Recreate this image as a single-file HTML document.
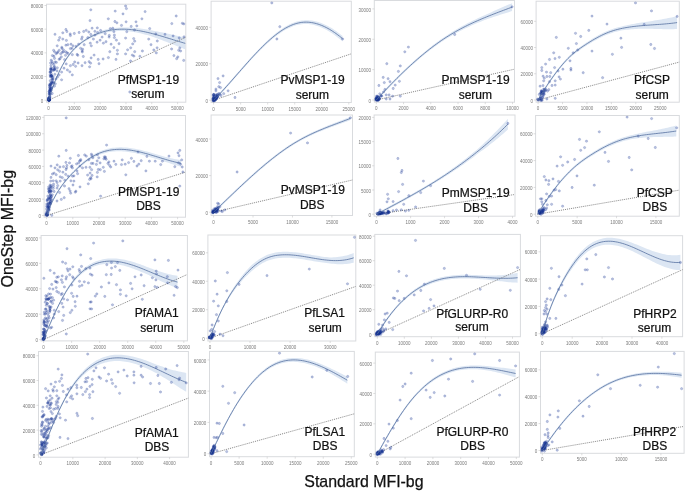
<!DOCTYPE html>
<html><head><meta charset="utf-8"><style>
html,body{margin:0;padding:0;background:#fff;}
svg{display:block;font-family:"Liberation Sans", sans-serif;will-change:transform;}
</style></head><body>
<svg width="685" height="491" viewBox="0 0 685 491">
<rect width="685" height="491" fill="#fff"/>
<clipPath id="c0"><rect x="46.5" y="4.2" width="139.3" height="98"/></clipPath>
<rect x="46.5" y="4.2" width="139.3" height="98" fill="#fff" stroke="#d9dbde" stroke-width="1"/>
<path d="M44.5 100.2h2M44.5 76.53h2M44.5 52.85h2M44.5 29.17h2M44.5 5.5h2M48.5 102.2v2M74.32 102.2v2M100.14 102.2v2M125.96 102.2v2M151.78 102.2v2M177.6 102.2v2" stroke="#c8c8c8" stroke-width="0.6" fill="none"/>
<g font-size="4.5" fill="#7a7a7a"><text x="43.3" y="102.8" text-anchor="end">0</text><text x="43.3" y="79.12" text-anchor="end">20000</text><text x="43.3" y="55.45" text-anchor="end">40000</text><text x="43.3" y="31.77" text-anchor="end">60000</text><text x="43.3" y="8.1" text-anchor="end">80000</text><text x="48.5" y="110.3" text-anchor="middle">0</text><text x="74.32" y="110.3" text-anchor="middle">10000</text><text x="100.14" y="110.3" text-anchor="middle">20000</text><text x="125.96" y="110.3" text-anchor="middle">30000</text><text x="151.78" y="110.3" text-anchor="middle">40000</text><text x="177.6" y="110.3" text-anchor="middle">50000</text></g>
<g clip-path="url(#c0)">
<path d="M48.5 98.88L50.23 93.42L51.96 88.31L53.7 83.55L55.43 79.1L57.16 74.96L58.89 71.12L60.63 67.55L62.36 64.25L64.09 61.2L65.82 58.39L67.55 55.8L69.29 53.42L71.02 51.23L72.75 49.22L74.48 47.38L76.22 45.68L77.95 44.13L79.68 42.69L81.41 41.36L83.14 40.11L84.88 38.93L86.61 37.83L88.34 36.78L90.07 35.8L91.81 34.88L93.54 34.03L95.27 33.23L97 32.49L98.73 31.8L100.47 31.17L102.2 30.6L103.93 30.08L105.66 29.61L107.4 29.18L109.13 28.81L110.86 28.49L112.59 28.21L114.32 27.98L116.06 27.79L117.79 27.64L119.52 27.53L121.25 27.47L122.99 27.44L124.72 27.45L126.45 27.47L128.18 27.49L129.91 27.54L131.65 27.63L133.38 27.74L135.11 27.88L136.84 28.05L138.58 28.25L140.31 28.48L142.04 28.72L143.77 28.99L145.5 29.28L147.24 29.59L148.97 29.92L150.7 30.27L152.43 30.61L154.17 30.91L155.9 31.23L157.63 31.57L159.36 31.91L161.09 32.26L162.83 32.62L164.56 32.99L166.29 33.36L168.02 33.74L169.76 34.12L171.49 34.5L173.22 34.89L174.95 35.27L176.68 35.65L178.42 36.03L180.15 36.4L181.88 36.77L183.61 37.13L185.35 37.48L185.35 49.32L183.61 48.66L181.88 48L180.15 47.32L178.42 46.65L176.68 45.96L174.95 45.28L173.22 44.59L171.49 43.9L169.76 43.21L168.02 42.52L166.29 41.84L164.56 41.16L162.83 40.49L161.09 39.82L159.36 39.16L157.63 38.52L155.9 37.88L154.17 37.25L152.43 36.64L150.7 36.09L148.97 35.59L147.24 35.1L145.5 34.63L143.77 34.18L142.04 33.75L140.31 33.34L138.58 32.96L136.84 32.6L135.11 32.27L133.38 31.97L131.65 31.7L129.91 31.46L128.18 31.25L126.45 31.07L124.72 30.97L122.99 30.93L121.25 30.92L119.52 30.95L117.79 31.02L116.06 31.13L114.32 31.28L112.59 31.48L110.86 31.72L109.13 32L107.4 32.34L105.66 32.72L103.93 33.16L102.2 33.64L100.47 34.18L98.73 34.77L97 35.42L95.27 36.12L93.54 36.88L91.81 37.7L90.07 38.59L88.34 39.53L86.61 40.54L84.88 41.61L83.14 42.74L81.41 43.96L79.68 45.29L77.95 46.73L76.22 48.28L74.48 49.98L72.75 51.82L71.02 53.83L69.29 56.02L67.55 58.4L65.82 60.99L64.09 63.8L62.36 66.85L60.63 70.15L58.89 73.72L57.16 77.56L55.43 81.7L53.7 86.15L51.96 90.91L50.23 96.02L48.5 101.48Z" fill="#dce6f3" stroke="none"/>
<line x1="48.5" y1="100.2" x2="185.8" y2="37.25" stroke="#747474" stroke-width="0.85" stroke-linecap="round" stroke-dasharray="0.25 1.75"/>
<g fill="rgba(25,55,150,0.3)" stroke="rgba(25,55,150,0.36)" stroke-width="0.5"><circle cx="90.8" cy="9.8" r="1.15"/><circle cx="90" cy="20.6" r="1.15"/><circle cx="92.1" cy="28.2" r="1.15"/><circle cx="94.9" cy="31.3" r="1.15"/><circle cx="55" cy="34.3" r="1.15"/><circle cx="62.8" cy="32.8" r="1.15"/><circle cx="65.9" cy="29.5" r="1.15"/><circle cx="66.9" cy="31.5" r="1.15"/><circle cx="70.2" cy="34" r="1.15"/><circle cx="70.4" cy="35.6" r="1.15"/><circle cx="74.3" cy="33.5" r="1.15"/><circle cx="79.1" cy="32.5" r="1.15"/><circle cx="83.7" cy="31.5" r="1.15"/><circle cx="86.2" cy="30.3" r="1.15"/><circle cx="88.8" cy="32" r="1.15"/><circle cx="90.8" cy="34.5" r="1.15"/><circle cx="59.7" cy="37.6" r="1.15"/><circle cx="58.7" cy="40.2" r="1.15"/><circle cx="62.8" cy="39.1" r="1.15"/><circle cx="66.4" cy="40.4" r="1.15"/><circle cx="82.2" cy="37.1" r="1.15"/><circle cx="81.6" cy="39.1" r="1.15"/><circle cx="87.8" cy="37.6" r="1.15"/><circle cx="93.4" cy="39.1" r="1.15"/><circle cx="90.3" cy="43.2" r="1.15"/><circle cx="91.3" cy="45.8" r="1.15"/><circle cx="84.2" cy="44.7" r="1.15"/><circle cx="57.2" cy="45.8" r="1.15"/><circle cx="61.8" cy="47.3" r="1.15"/><circle cx="65.9" cy="45.2" r="1.15"/><circle cx="67.9" cy="44.7" r="1.15"/><circle cx="71" cy="44.2" r="1.15"/><circle cx="73" cy="45.8" r="1.15"/><circle cx="72" cy="48.3" r="1.15"/><circle cx="76" cy="46.3" r="1.15"/><circle cx="78.6" cy="44.2" r="1.15"/><circle cx="80.6" cy="48.3" r="1.15"/><circle cx="82.2" cy="50.8" r="1.15"/><circle cx="53.6" cy="50.3" r="1.15"/><circle cx="54.7" cy="51.9" r="1.15"/><circle cx="59.2" cy="50.3" r="1.15"/><circle cx="63.3" cy="51.9" r="1.15"/><circle cx="66.9" cy="52.7" r="1.15"/><circle cx="57.2" cy="52.9" r="1.15"/><circle cx="125.6" cy="6" r="1.15"/><circle cx="126.4" cy="8.6" r="1.15"/><circle cx="115.2" cy="11.1" r="1.15"/><circle cx="123" cy="13.9" r="1.15"/><circle cx="108.3" cy="18.8" r="1.15"/><circle cx="141.9" cy="18.8" r="1.15"/><circle cx="114.9" cy="21.5" r="1.15"/><circle cx="116.9" cy="22.8" r="1.15"/><circle cx="126.1" cy="21.8" r="1.15"/><circle cx="136" cy="21.8" r="1.15"/><circle cx="121.5" cy="25.4" r="1.15"/><circle cx="131.2" cy="26.4" r="1.15"/><circle cx="136.8" cy="25.9" r="1.15"/><circle cx="97.3" cy="27.9" r="1.15"/><circle cx="110.3" cy="28.6" r="1.15"/><circle cx="112.8" cy="28.2" r="1.15"/><circle cx="100.6" cy="30.5" r="1.15"/><circle cx="97.6" cy="32.5" r="1.15"/><circle cx="95" cy="35.1" r="1.15"/><circle cx="113.9" cy="31.7" r="1.15"/><circle cx="126.8" cy="31.7" r="1.15"/><circle cx="134.5" cy="30" r="1.15"/><circle cx="105.2" cy="33.7" r="1.15"/><circle cx="109.3" cy="35.4" r="1.15"/><circle cx="114.4" cy="35.1" r="1.15"/><circle cx="102.1" cy="37.1" r="1.15"/><circle cx="109.1" cy="37.1" r="1.15"/><circle cx="114.4" cy="37.6" r="1.15"/><circle cx="116.4" cy="40.2" r="1.15"/><circle cx="125.6" cy="38.1" r="1.15"/><circle cx="133.7" cy="38.6" r="1.15"/><circle cx="134.7" cy="41.2" r="1.15"/><circle cx="100.1" cy="40.2" r="1.15"/><circle cx="97.1" cy="42.2" r="1.15"/><circle cx="103.4" cy="43.2" r="1.15"/><circle cx="106" cy="41.7" r="1.15"/><circle cx="111.1" cy="44.2" r="1.15"/><circle cx="119" cy="43.7" r="1.15"/><circle cx="132.7" cy="43.9" r="1.15"/><circle cx="113.9" cy="47.6" r="1.15"/><circle cx="130.7" cy="47.8" r="1.15"/><circle cx="117.4" cy="50.3" r="1.15"/><circle cx="127.6" cy="49.8" r="1.15"/><circle cx="109.8" cy="51.7" r="1.15"/><circle cx="134.7" cy="51.7" r="1.15"/><circle cx="142.4" cy="51" r="1.15"/><circle cx="125.6" cy="53.9" r="1.15"/><circle cx="117.4" cy="53.9" r="1.15"/><circle cx="145.1" cy="11.6" r="1.15"/><circle cx="176.2" cy="16" r="1.15"/><circle cx="171.8" cy="23.6" r="1.15"/><circle cx="182.3" cy="23.3" r="1.15"/><circle cx="183.8" cy="23.9" r="1.15"/><circle cx="149.7" cy="28.6" r="1.15"/><circle cx="155.8" cy="34" r="1.15"/><circle cx="165" cy="34.3" r="1.15"/><circle cx="173.1" cy="35.9" r="1.15"/><circle cx="179.2" cy="37.9" r="1.15"/><circle cx="184" cy="36.8" r="1.15"/><circle cx="148.7" cy="39.1" r="1.15"/><circle cx="157.3" cy="41" r="1.15"/><circle cx="151" cy="44.7" r="1.15"/><circle cx="157.1" cy="47.8" r="1.15"/><circle cx="153.8" cy="50" r="1.15"/><circle cx="156.3" cy="52.9" r="1.15"/><circle cx="171.6" cy="49" r="1.15"/><circle cx="179.8" cy="48" r="1.15"/><circle cx="178.7" cy="50.3" r="1.15"/><circle cx="180.6" cy="51" r="1.15"/><circle cx="94.1" cy="55.1" r="1.15"/><circle cx="91.1" cy="57.9" r="1.15"/><circle cx="98.2" cy="59.4" r="1.15"/><circle cx="103.1" cy="59" r="1.15"/><circle cx="108.4" cy="57.6" r="1.15"/><circle cx="132.3" cy="55.1" r="1.15"/><circle cx="133.9" cy="56.1" r="1.15"/><circle cx="116" cy="59.4" r="1.15"/><circle cx="130.6" cy="61" r="1.15"/><circle cx="89.1" cy="61.7" r="1.15"/><circle cx="90.6" cy="63.2" r="1.15"/><circle cx="99" cy="63.7" r="1.15"/><circle cx="89.6" cy="66.8" r="1.15"/><circle cx="129.8" cy="92" r="1.15"/><circle cx="139.9" cy="56.3" r="1.15"/><circle cx="173.9" cy="55.6" r="1.15"/><circle cx="177.8" cy="56.9" r="1.15"/><circle cx="176.7" cy="58.7" r="1.15"/><circle cx="183.7" cy="60.4" r="1.15"/><circle cx="63.4" cy="49.8" r="1.15"/><circle cx="61.9" cy="48.3" r="1.15"/><circle cx="57.9" cy="52" r="1.15"/><circle cx="62.2" cy="52.3" r="1.15"/><circle cx="65.5" cy="51.7" r="1.15"/><circle cx="68" cy="53.5" r="1.15"/><circle cx="56.1" cy="53.8" r="1.15"/><circle cx="60.7" cy="53.8" r="1.15"/><circle cx="65.5" cy="55.3" r="1.15"/><circle cx="52.4" cy="55.6" r="1.15"/><circle cx="53.9" cy="56.2" r="1.15"/><circle cx="61.3" cy="56.9" r="1.15"/><circle cx="54.5" cy="58.4" r="1.15"/><circle cx="60" cy="58.7" r="1.15"/><circle cx="59.1" cy="59.3" r="1.15"/><circle cx="64.6" cy="59.6" r="1.15"/><circle cx="51.2" cy="60.2" r="1.15"/><circle cx="52.1" cy="61.7" r="1.15"/><circle cx="50.6" cy="63" r="1.15"/><circle cx="52.7" cy="63.3" r="1.15"/><circle cx="55.2" cy="62" r="1.15"/><circle cx="53.9" cy="64.5" r="1.15"/><circle cx="56.4" cy="62.4" r="1.15"/><circle cx="66.2" cy="63.9" r="1.15"/><circle cx="57.3" cy="67.8" r="1.15"/><circle cx="64" cy="68.2" r="1.15"/><circle cx="53.9" cy="70" r="1.15"/><circle cx="57" cy="70.9" r="1.15"/><circle cx="50.6" cy="69.7" r="1.15"/><circle cx="50.9" cy="71.8" r="1.15"/><circle cx="51.2" cy="73.6" r="1.15"/><circle cx="54.9" cy="74.3" r="1.15"/><circle cx="51.5" cy="75.8" r="1.15"/><circle cx="50.6" cy="76.7" r="1.15"/><circle cx="61.6" cy="72.1" r="1.15"/><circle cx="59.1" cy="74.9" r="1.15"/><circle cx="67.4" cy="70" r="1.15"/><circle cx="69.8" cy="71.8" r="1.15"/><circle cx="72.3" cy="74.9" r="1.15"/><circle cx="70.4" cy="65.7" r="1.15"/><circle cx="73.2" cy="64.5" r="1.15"/><circle cx="75.6" cy="66.3" r="1.15"/><circle cx="74.7" cy="62" r="1.15"/><circle cx="78.1" cy="63" r="1.15"/><circle cx="82" cy="65.7" r="1.15"/><circle cx="85.1" cy="62.7" r="1.15"/><circle cx="77.8" cy="55.3" r="1.15"/><circle cx="77.1" cy="54.4" r="1.15"/><circle cx="83.3" cy="56.5" r="1.15"/><circle cx="82.3" cy="52" r="1.15"/><circle cx="82.6" cy="49.2" r="1.15"/><circle cx="72.3" cy="54.7" r="1.15"/><circle cx="70.4" cy="48.6" r="1.15"/><circle cx="61.6" cy="79.8" r="1.15"/><circle cx="53.8" cy="82.9" r="1.15"/><circle cx="55.3" cy="83.8" r="1.15"/><circle cx="54.4" cy="86.2" r="1.15"/><circle cx="52.2" cy="93.5" r="1.15"/><circle cx="53.2" cy="81.9" r="1.15"/><circle cx="57.5" cy="77" r="1.15"/><circle cx="56" cy="79" r="1.15"/><circle cx="50.08" cy="74.9" r="1.15"/><circle cx="53.17" cy="76.96" r="1.15"/><circle cx="49.47" cy="99.88" r="1.15"/><circle cx="51.5" cy="75.51" r="1.15"/><circle cx="49.98" cy="93.85" r="1.15"/><circle cx="49.94" cy="92.99" r="1.15"/><circle cx="49.4" cy="84.73" r="1.15"/><circle cx="52.37" cy="78.22" r="1.15"/><circle cx="54" cy="67.21" r="1.15"/><circle cx="51.85" cy="82.43" r="1.15"/><circle cx="49.13" cy="98.51" r="1.15"/><circle cx="54.79" cy="68.95" r="1.15"/><circle cx="49.36" cy="100.37" r="1.15"/><circle cx="50.64" cy="83.38" r="1.15"/><circle cx="49.49" cy="99.43" r="1.15"/><circle cx="49.44" cy="97.15" r="1.15"/><circle cx="49.01" cy="100.03" r="1.15"/><circle cx="49.36" cy="93.28" r="1.15"/><circle cx="48.44" cy="98.88" r="1.15"/><circle cx="53.03" cy="70.3" r="1.15"/><circle cx="49" cy="100.4" r="1.15"/><circle cx="50.54" cy="76.61" r="1.15"/><circle cx="54.73" cy="66.75" r="1.15"/><circle cx="51.74" cy="87.79" r="1.15"/><circle cx="48.51" cy="97.92" r="1.15"/><circle cx="49.04" cy="93.98" r="1.15"/><circle cx="51" cy="65.64" r="1.15"/><circle cx="50.3" cy="94.51" r="1.15"/><circle cx="48.42" cy="100.28" r="1.15"/><circle cx="49.95" cy="88.61" r="1.15"/><circle cx="49.11" cy="100.36" r="1.15"/><circle cx="50.24" cy="72.25" r="1.15"/><circle cx="48.52" cy="99.44" r="1.15"/><circle cx="50.47" cy="90.35" r="1.15"/><circle cx="49.85" cy="96.89" r="1.15"/><circle cx="49.48" cy="99.83" r="1.15"/><circle cx="48.63" cy="97.8" r="1.15"/><circle cx="49.24" cy="98.25" r="1.15"/><circle cx="50.73" cy="68.92" r="1.15"/><circle cx="50.89" cy="84.58" r="1.15"/><circle cx="50.79" cy="90.34" r="1.15"/><circle cx="49.92" cy="97.19" r="1.15"/><circle cx="49.33" cy="95.18" r="1.15"/><circle cx="50.34" cy="89.28" r="1.15"/><circle cx="52.52" cy="79.87" r="1.15"/><circle cx="50.88" cy="68.08" r="1.15"/><circle cx="49.5" cy="98.58" r="1.15"/><circle cx="50.85" cy="75.62" r="1.15"/><circle cx="54.38" cy="69.71" r="1.15"/><circle cx="48.46" cy="100.14" r="1.15"/><circle cx="49.43" cy="99.84" r="1.15"/><circle cx="51.28" cy="70.56" r="1.15"/><circle cx="51.16" cy="69.25" r="1.15"/><circle cx="50.14" cy="90.65" r="1.15"/><circle cx="49.51" cy="86.18" r="1.15"/><circle cx="49.41" cy="100.16" r="1.15"/><circle cx="51.86" cy="75.74" r="1.15"/><circle cx="52.1" cy="82.15" r="1.15"/><circle cx="48.61" cy="100.13" r="1.15"/><circle cx="51.99" cy="79.28" r="1.15"/><circle cx="49.15" cy="91.53" r="1.15"/><circle cx="48.66" cy="100.14" r="1.15"/><circle cx="50.67" cy="84.31" r="1.15"/><circle cx="52.3" cy="83.53" r="1.15"/><circle cx="49.55" cy="90" r="1.15"/><circle cx="54.96" cy="69.07" r="1.15"/><circle cx="51.03" cy="90.67" r="1.15"/><circle cx="49.1" cy="91.77" r="1.15"/><circle cx="51.46" cy="88.39" r="1.15"/><circle cx="50.24" cy="80.75" r="1.15"/><circle cx="49.56" cy="99.82" r="1.15"/><circle cx="51.32" cy="82.96" r="1.15"/><circle cx="52.95" cy="79.06" r="1.15"/><circle cx="51.72" cy="76.32" r="1.15"/><circle cx="48.61" cy="98.87" r="1.15"/><circle cx="49.83" cy="87.63" r="1.15"/><circle cx="52.17" cy="68.59" r="1.15"/><circle cx="50.01" cy="72.03" r="1.15"/><circle cx="49.48" cy="99.57" r="1.15"/><circle cx="49.9" cy="87.55" r="1.15"/><circle cx="50.36" cy="84.99" r="1.15"/><circle cx="51.63" cy="86.82" r="1.15"/><circle cx="50.78" cy="89.2" r="1.15"/><circle cx="49.75" cy="91.39" r="1.15"/><circle cx="49.86" cy="85.35" r="1.15"/></g>
<path d="M48.5 100.18L50.23 94.72L51.96 89.61L53.7 84.85L55.43 80.4L57.16 76.26L58.89 72.42L60.63 68.85L62.36 65.55L64.09 62.5L65.82 59.69L67.55 57.1L69.29 54.72L71.02 52.53L72.75 50.52L74.48 48.68L76.22 46.98L77.95 45.43L79.68 43.99L81.41 42.66L83.14 41.43L84.88 40.27L86.61 39.18L88.34 38.16L90.07 37.19L91.81 36.29L93.54 35.45L95.27 34.67L97 33.95L98.73 33.29L100.47 32.68L102.2 32.12L103.93 31.62L105.66 31.16L107.4 30.76L109.13 30.41L110.86 30.1L112.59 29.84L114.32 29.63L116.06 29.46L117.79 29.33L119.52 29.24L121.25 29.19L122.99 29.18L124.72 29.21L126.45 29.27L128.18 29.37L129.91 29.5L131.65 29.66L133.38 29.86L135.11 30.08L136.84 30.33L138.58 30.61L140.31 30.91L142.04 31.24L143.77 31.58L145.5 31.96L147.24 32.35L148.97 32.76L150.7 33.18L152.43 33.63L154.17 34.08L155.9 34.56L157.63 35.04L159.36 35.54L161.09 36.04L162.83 36.55L164.56 37.07L166.29 37.6L168.02 38.13L169.76 38.67L171.49 39.2L173.22 39.74L174.95 40.27L176.68 40.81L178.42 41.34L180.15 41.86L181.88 42.38L183.61 42.9L185.35 43.4" fill="none" stroke="#56709f" stroke-width="0.8"/>
</g>
<g font-size="12" fill="#111" stroke="#111" stroke-width="0.22" text-anchor="middle"><text x="148.4" y="84.4">PfMSP1-19</text><text x="147.8" y="98">serum</text></g>
<clipPath id="c1"><rect x="211.1" y="1.2" width="140.2" height="101.3"/></clipPath>
<rect x="211.1" y="1.2" width="140.2" height="101.3" fill="#fff" stroke="#d9dbde" stroke-width="1"/>
<path d="M209.1 100.2h2M209.1 63.75h2M209.1 27.3h2M213.6 102.5v2M240.64 102.5v2M267.68 102.5v2M294.72 102.5v2M321.76 102.5v2M348.8 102.5v2" stroke="#c8c8c8" stroke-width="0.6" fill="none"/>
<g font-size="4.5" fill="#7a7a7a"><text x="207.9" y="102.8" text-anchor="end">0</text><text x="207.9" y="66.35" text-anchor="end">20000</text><text x="207.9" y="29.9" text-anchor="end">40000</text><text x="213.6" y="110.6" text-anchor="middle">0</text><text x="240.64" y="110.6" text-anchor="middle">5000</text><text x="267.68" y="110.6" text-anchor="middle">10000</text><text x="294.72" y="110.6" text-anchor="middle">15000</text><text x="321.76" y="110.6" text-anchor="middle">20000</text><text x="348.8" y="110.6" text-anchor="middle">25000</text></g>
<g clip-path="url(#c1)">
<path d="M213.6 98.91L215.23 97.25L216.87 95.57L218.5 93.86L220.13 92.13L221.76 90.37L223.4 88.59L225.03 86.79L226.66 84.98L228.29 83.15L229.93 81.31L231.56 79.46L233.19 77.6L234.82 75.74L236.46 73.87L238.09 72L239.72 70.13L241.36 68.27L242.99 66.41L244.62 64.56L246.25 62.71L247.89 60.88L249.52 59.06L251.15 57.26L252.78 55.47L254.42 53.69L256.05 51.93L257.68 50.2L259.31 48.49L260.95 46.82L262.58 45.17L264.21 43.56L265.85 41.98L267.48 40.44L269.11 38.94L270.74 37.48L272.38 36.07L274.01 34.7L275.64 33.38L277.27 32.11L278.91 30.9L280.54 29.73L282.17 28.63L283.8 27.59L285.44 26.6L287.07 25.68L288.7 24.83L290.34 24.04L291.97 23.32L293.6 22.68L295.23 22.11L296.87 21.61L298.5 21.2L300.13 20.86L301.76 20.61L303.4 20.43L305.03 20.33L306.66 20.29L308.29 20.32L309.93 20.42L311.56 20.6L313.19 20.84L314.83 21.16L316.46 21.54L318.09 22L319.72 22.51L321.36 23.1L322.99 23.74L324.62 24.45L326.25 25.22L327.89 26.05L329.52 26.93L331.15 27.87L332.78 28.87L334.42 29.93L336.05 31.03L337.68 32.19L339.32 33.4L340.95 34.66L342.58 35.96L342.58 41.39L340.95 40.01L339.32 38.67L337.68 37.38L336.05 36.15L334.42 34.96L332.78 33.83L331.15 32.75L329.52 31.73L327.89 30.77L326.25 29.86L324.62 29.01L322.99 28.23L321.36 27.5L319.72 26.84L318.09 26.25L316.46 25.72L314.83 25.25L313.19 24.86L311.56 24.53L309.93 24.28L308.29 24.1L306.66 23.99L305.03 23.97L303.4 24.03L301.76 24.18L300.13 24.4L298.5 24.71L296.87 25.09L295.23 25.55L293.6 26.09L291.97 26.71L290.34 27.39L288.7 28.15L287.07 28.97L285.44 29.86L283.8 30.81L282.17 31.83L280.54 32.9L278.91 34.03L277.27 35.21L275.64 36.45L274.01 37.74L272.38 39.07L270.74 40.46L269.11 41.88L267.48 43.35L265.85 44.86L264.21 46.4L262.58 47.98L260.95 49.6L259.31 51.24L257.68 52.91L256.05 54.61L254.42 56.34L252.78 58.09L251.15 59.86L249.52 61.66L247.89 63.48L246.25 65.31L244.62 67.16L242.99 69.01L241.36 70.87L239.72 72.73L238.09 74.6L236.46 76.47L234.82 78.34L233.19 80.2L231.56 82.06L229.93 83.91L228.29 85.75L226.66 87.58L225.03 89.39L223.4 91.19L221.76 92.97L220.13 94.73L218.5 96.46L216.87 98.17L215.23 99.85L213.6 101.51Z" fill="#dce6f3" stroke="none"/>
<line x1="213.6" y1="100.2" x2="351.3" y2="53.79" stroke="#747474" stroke-width="0.85" stroke-linecap="round" stroke-dasharray="0.25 1.75"/>
<g fill="rgba(25,55,150,0.3)" stroke="rgba(25,55,150,0.36)" stroke-width="0.5"><circle cx="271.8" cy="2.9" r="1.15"/><circle cx="279.8" cy="26.7" r="1.15"/><circle cx="276.9" cy="39" r="1.15"/><circle cx="342.6" cy="39" r="1.15"/><circle cx="223.1" cy="75.9" r="1.15"/><circle cx="218" cy="78.6" r="1.15"/><circle cx="219.6" cy="82.6" r="1.15"/><circle cx="218.8" cy="86.7" r="1.15"/><circle cx="220.5" cy="87.6" r="1.15"/><circle cx="215.9" cy="89.1" r="1.15"/><circle cx="215.9" cy="90.8" r="1.15"/><circle cx="228.1" cy="90.8" r="1.15"/><circle cx="223.7" cy="93.7" r="1.15"/><circle cx="235" cy="97.5" r="1.15"/><circle cx="217.5" cy="94.3" r="1.15"/><circle cx="219" cy="93.5" r="1.15"/><circle cx="221" cy="95.5" r="1.15"/><circle cx="214.66" cy="98.12" r="1.15"/><circle cx="213.05" cy="100.19" r="1.15"/><circle cx="215.36" cy="98.4" r="1.15"/><circle cx="216.32" cy="97.32" r="1.15"/><circle cx="213.02" cy="98.76" r="1.15"/><circle cx="214.85" cy="100.16" r="1.15"/><circle cx="214.89" cy="98.86" r="1.15"/><circle cx="216.84" cy="96.87" r="1.15"/><circle cx="213.82" cy="100.52" r="1.15"/><circle cx="217.59" cy="97.07" r="1.15"/><circle cx="215.41" cy="99.82" r="1.15"/><circle cx="216.37" cy="95.38" r="1.15"/><circle cx="217.14" cy="97.66" r="1.15"/><circle cx="213.93" cy="98.72" r="1.15"/><circle cx="213.72" cy="95.84" r="1.15"/><circle cx="216.47" cy="96.51" r="1.15"/><circle cx="216.09" cy="99.07" r="1.15"/><circle cx="213.7" cy="97.42" r="1.15"/><circle cx="216.28" cy="98.89" r="1.15"/><circle cx="214.42" cy="100.91" r="1.15"/><circle cx="216.37" cy="97.9" r="1.15"/><circle cx="213.8" cy="94.73" r="1.15"/><circle cx="214.61" cy="98.82" r="1.15"/><circle cx="216.25" cy="98.33" r="1.15"/><circle cx="213" cy="101.01" r="1.15"/><circle cx="217.59" cy="96.24" r="1.15"/><circle cx="213.89" cy="94.48" r="1.15"/><circle cx="213.22" cy="95.57" r="1.15"/><circle cx="214.45" cy="95.89" r="1.15"/><circle cx="217.37" cy="94.76" r="1.15"/><circle cx="213.48" cy="98.49" r="1.15"/><circle cx="215.71" cy="95.01" r="1.15"/><circle cx="213.45" cy="94.52" r="1.15"/><circle cx="212.99" cy="98.79" r="1.15"/><circle cx="215.55" cy="99.86" r="1.15"/><circle cx="212.92" cy="99.46" r="1.15"/><circle cx="215.22" cy="99.18" r="1.15"/><circle cx="217.4" cy="96.51" r="1.15"/><circle cx="213.83" cy="100.76" r="1.15"/><circle cx="214.38" cy="98.85" r="1.15"/><circle cx="213.43" cy="97.51" r="1.15"/><circle cx="218.3" cy="95.23" r="1.15"/><circle cx="214.33" cy="97.59" r="1.15"/><circle cx="213.79" cy="101.12" r="1.15"/><circle cx="219.79" cy="94.42" r="1.15"/></g>
<path d="M213.6 100.21L215.23 98.55L216.87 96.87L218.5 95.16L220.13 93.43L221.76 91.67L223.4 89.89L225.03 88.09L226.66 86.28L228.29 84.45L229.93 82.61L231.56 80.76L233.19 78.9L234.82 77.04L236.46 75.17L238.09 73.3L239.72 71.43L241.36 69.57L242.99 67.71L244.62 65.86L246.25 64.01L247.89 62.18L249.52 60.36L251.15 58.56L252.78 56.78L254.42 55.02L256.05 53.27L257.68 51.56L259.31 49.87L260.95 48.21L262.58 46.58L264.21 44.98L265.85 43.42L267.48 41.9L269.11 40.41L270.74 38.97L272.38 37.57L274.01 36.22L275.64 34.92L277.27 33.66L278.91 32.46L280.54 31.32L282.17 30.23L283.8 29.2L285.44 28.23L287.07 27.33L288.7 26.49L290.34 25.71L291.97 25.01L293.6 24.38L295.23 23.83L296.87 23.35L298.5 22.95L300.13 22.63L301.76 22.39L303.4 22.23L305.03 22.15L306.66 22.14L308.29 22.21L309.93 22.35L311.56 22.57L313.19 22.85L314.83 23.21L316.46 23.63L318.09 24.12L319.72 24.68L321.36 25.3L322.99 25.98L324.62 26.73L326.25 27.54L327.89 28.41L329.52 29.33L331.15 30.31L332.78 31.35L334.42 32.44L336.05 33.59L337.68 34.79L339.32 36.03L340.95 37.33L342.58 38.68" fill="none" stroke="#56709f" stroke-width="0.8"/>
</g>
<g font-size="12" fill="#111" stroke="#111" stroke-width="0.22" text-anchor="middle"><text x="312.6" y="84.4">PvMSP1-19</text><text x="312.3" y="98.5">serum</text></g>
<clipPath id="c2"><rect x="374.3" y="0.5" width="140.2" height="101.7"/></clipPath>
<rect x="374.3" y="0.5" width="140.2" height="101.7" fill="#fff" stroke="#d9dbde" stroke-width="1"/>
<path d="M372.3 100h2M372.3 69.63h2M372.3 39.27h2M372.3 8.9h2M376.3 102.2v2M403.54 102.2v2M430.78 102.2v2M458.02 102.2v2M485.26 102.2v2M512.5 102.2v2" stroke="#c8c8c8" stroke-width="0.6" fill="none"/>
<g font-size="4.5" fill="#7a7a7a"><text x="371.1" y="102.6" text-anchor="end">0</text><text x="371.1" y="72.23" text-anchor="end">10000</text><text x="371.1" y="41.87" text-anchor="end">20000</text><text x="371.1" y="11.5" text-anchor="end">30000</text><text x="376.3" y="110.3" text-anchor="middle">0</text><text x="403.54" y="110.3" text-anchor="middle">2000</text><text x="430.78" y="110.3" text-anchor="middle">4000</text><text x="458.02" y="110.3" text-anchor="middle">6000</text><text x="485.26" y="110.3" text-anchor="middle">8000</text><text x="512.5" y="110.3" text-anchor="middle">10000</text></g>
<g clip-path="url(#c2)">
<path d="M376.3 98.72L378.02 96.84L379.74 94.97L381.46 93.12L383.18 91.27L384.9 89.45L386.61 87.64L388.33 85.84L390.05 84.05L391.77 82.28L393.49 80.53L395.21 78.79L396.93 77.07L398.65 75.37L400.37 73.68L402.09 72.01L403.8 70.36L405.52 68.72L407.24 67.1L408.96 65.5L410.68 63.92L412.4 62.36L414.12 60.82L415.84 59.3L417.56 57.79L419.28 56.31L421 54.84L422.71 53.39L424.43 51.95L426.15 50.54L427.87 49.15L429.59 47.78L431.31 46.44L433.03 45.12L434.75 43.82L436.47 42.54L438.19 41.29L439.9 40.06L441.62 38.86L443.34 37.69L445.06 36.53L446.78 35.38L448.5 34.25L450.22 33.15L451.94 32.08L453.66 31.03L455.38 30L457.1 28.99L458.81 28.01L460.53 27.04L462.25 26.09L463.97 25.17L465.69 24.26L467.41 23.37L469.13 22.49L470.85 21.64L472.57 20.79L474.29 19.97L476 19.15L477.72 18.35L479.44 17.56L481.16 16.79L482.88 16.02L484.6 15.27L486.32 14.49L488.04 13.7L489.76 12.91L491.48 12.13L493.2 11.36L494.91 10.6L496.63 9.84L498.35 9.08L500.07 8.33L501.79 7.59L503.51 6.84L505.23 6.1L506.95 5.36L508.67 4.62L510.39 3.88L512.11 3.14L512.11 11.03L510.39 11.58L508.67 12.13L506.95 12.67L505.23 13.22L503.51 13.77L501.79 14.32L500.07 14.87L498.35 15.42L496.63 15.98L494.91 16.55L493.2 17.12L491.48 17.69L489.76 18.28L488.04 18.87L486.32 19.47L484.6 20.1L482.88 20.78L481.16 21.46L479.44 22.16L477.72 22.87L476 23.6L474.29 24.34L472.57 25.09L470.85 25.85L469.13 26.63L467.41 27.43L465.69 28.25L463.97 29.08L462.25 29.93L460.53 30.8L458.81 31.69L457.1 32.59L455.38 33.53L453.66 34.48L451.94 35.45L450.22 36.45L448.5 37.47L446.78 38.52L445.06 39.59L443.34 40.7L441.62 41.85L439.9 43.02L438.19 44.22L436.47 45.44L434.75 46.68L433.03 47.95L431.31 49.24L429.59 50.56L427.87 51.89L426.15 53.25L424.43 54.63L422.71 56.04L421 57.46L419.28 58.91L417.56 60.39L415.84 61.9L414.12 63.42L412.4 64.96L410.68 66.52L408.96 68.1L407.24 69.7L405.52 71.32L403.8 72.96L402.09 74.61L400.37 76.28L398.65 77.97L396.93 79.67L395.21 81.39L393.49 83.13L391.77 84.88L390.05 86.65L388.33 88.44L386.61 90.24L384.9 92.05L383.18 93.87L381.46 95.72L379.74 97.57L378.02 99.44L376.3 101.32Z" fill="#dce6f3" stroke="none"/>
<line x1="376.3" y1="100" x2="514.5" y2="69.19" stroke="#747474" stroke-width="0.85" stroke-linecap="round" stroke-dasharray="0.25 1.75"/>
<g fill="rgba(25,55,150,0.3)" stroke="rgba(25,55,150,0.36)" stroke-width="0.5"><circle cx="408.4" cy="47.1" r="1.15"/><circle cx="404.8" cy="51.8" r="1.15"/><circle cx="386.8" cy="63.7" r="1.15"/><circle cx="400.3" cy="65.9" r="1.15"/><circle cx="398.4" cy="71.4" r="1.15"/><circle cx="383.2" cy="77.4" r="1.15"/><circle cx="388.1" cy="78.7" r="1.15"/><circle cx="390" cy="81.7" r="1.15"/><circle cx="384.3" cy="82.6" r="1.15"/><circle cx="399.4" cy="81.3" r="1.15"/><circle cx="395.2" cy="85.1" r="1.15"/><circle cx="393.2" cy="88.5" r="1.15"/><circle cx="378.9" cy="85.5" r="1.15"/><circle cx="384.9" cy="89.4" r="1.15"/><circle cx="383.6" cy="91.9" r="1.15"/><circle cx="379.8" cy="93.8" r="1.15"/><circle cx="386.2" cy="94.9" r="1.15"/><circle cx="389.1" cy="94.9" r="1.15"/><circle cx="392.6" cy="96.2" r="1.15"/><circle cx="400.3" cy="96.2" r="1.15"/><circle cx="386.2" cy="99" r="1.15"/><circle cx="390" cy="99" r="1.15"/><circle cx="454.7" cy="34.5" r="1.15"/><circle cx="512.1" cy="6.8" r="1.15"/><circle cx="377.52" cy="98.36" r="1.15"/><circle cx="378.59" cy="97.16" r="1.15"/><circle cx="375.96" cy="98.58" r="1.15"/><circle cx="377.6" cy="99.14" r="1.15"/><circle cx="376.22" cy="98.59" r="1.15"/><circle cx="376.98" cy="99.32" r="1.15"/><circle cx="380.9" cy="96.1" r="1.15"/><circle cx="376.54" cy="96.12" r="1.15"/><circle cx="377.56" cy="99.6" r="1.15"/><circle cx="376.24" cy="100.17" r="1.15"/><circle cx="375.96" cy="98.04" r="1.15"/><circle cx="375.91" cy="98.88" r="1.15"/><circle cx="378.88" cy="99.55" r="1.15"/><circle cx="376.88" cy="98.9" r="1.15"/><circle cx="381.83" cy="96.05" r="1.15"/><circle cx="377.22" cy="99.49" r="1.15"/><circle cx="378.27" cy="99.72" r="1.15"/><circle cx="379.21" cy="98.58" r="1.15"/><circle cx="376.92" cy="96.97" r="1.15"/><circle cx="378.01" cy="99.94" r="1.15"/><circle cx="377.43" cy="96.29" r="1.15"/><circle cx="377.53" cy="96.37" r="1.15"/><circle cx="378.25" cy="99.11" r="1.15"/><circle cx="377.28" cy="99.9" r="1.15"/><circle cx="376.25" cy="98.67" r="1.15"/><circle cx="376.86" cy="100.18" r="1.15"/><circle cx="378.21" cy="98.34" r="1.15"/><circle cx="376.87" cy="100.17" r="1.15"/><circle cx="381.2" cy="95.64" r="1.15"/><circle cx="378.42" cy="99.19" r="1.15"/><circle cx="378.16" cy="98.86" r="1.15"/><circle cx="375.57" cy="99.97" r="1.15"/><circle cx="378.63" cy="97.23" r="1.15"/><circle cx="378.59" cy="100.21" r="1.15"/><circle cx="377.22" cy="97.68" r="1.15"/><circle cx="379.57" cy="98.33" r="1.15"/><circle cx="379.04" cy="98.45" r="1.15"/><circle cx="377.91" cy="100.29" r="1.15"/><circle cx="377.69" cy="97.98" r="1.15"/><circle cx="379.48" cy="98.79" r="1.15"/></g>
<path d="M376.3 100.02L378.02 98.14L379.74 96.27L381.46 94.42L383.18 92.57L384.9 90.75L386.61 88.94L388.33 87.14L390.05 85.35L391.77 83.58L393.49 81.83L395.21 80.09L396.93 78.37L398.65 76.67L400.37 74.98L402.09 73.31L403.8 71.66L405.52 70.02L407.24 68.4L408.96 66.8L410.68 65.22L412.4 63.66L414.12 62.12L415.84 60.6L417.56 59.09L419.28 57.61L421 56.15L422.71 54.71L424.43 53.29L426.15 51.9L427.87 50.52L429.59 49.17L431.31 47.84L433.03 46.53L434.75 45.25L436.47 43.99L438.19 42.75L439.9 41.54L441.62 40.36L443.34 39.19L445.06 38.06L446.78 36.95L448.5 35.86L450.22 34.8L451.94 33.77L453.66 32.75L455.38 31.76L457.1 30.79L458.81 29.85L460.53 28.92L462.25 28.01L463.97 27.12L465.69 26.25L467.41 25.4L469.13 24.56L470.85 23.74L472.57 22.94L474.29 22.15L476 21.38L477.72 20.61L479.44 19.86L481.16 19.13L482.88 18.4L484.6 17.68L486.32 16.98L488.04 16.28L489.76 15.59L491.48 14.91L493.2 14.24L494.91 13.57L496.63 12.91L498.35 12.25L500.07 11.6L501.79 10.95L503.51 10.3L505.23 9.66L506.95 9.02L508.67 8.37L510.39 7.73L512.11 7.09" fill="none" stroke="#56709f" stroke-width="0.8"/>
</g>
<g font-size="12" fill="#111" stroke="#111" stroke-width="0.22" text-anchor="middle"><text x="475.6" y="84.4">PmMSP1-19</text><text x="475.3" y="98.5">serum</text></g>
<clipPath id="c3"><rect x="536.1" y="1.2" width="143.2" height="101"/></clipPath>
<rect x="536.1" y="1.2" width="143.2" height="101" fill="#fff" stroke="#d9dbde" stroke-width="1"/>
<path d="M534.1 100h2M534.1 73.77h2M534.1 47.53h2M534.1 21.3h2M538.1 102.2v2M562.52 102.2v2M586.94 102.2v2M611.36 102.2v2M635.78 102.2v2M660.2 102.2v2" stroke="#c8c8c8" stroke-width="0.6" fill="none"/>
<g font-size="4.5" fill="#7a7a7a"><text x="532.9" y="102.6" text-anchor="end">0</text><text x="532.9" y="76.37" text-anchor="end">20000</text><text x="532.9" y="50.13" text-anchor="end">40000</text><text x="532.9" y="23.9" text-anchor="end">60000</text><text x="538.1" y="110.3" text-anchor="middle">0</text><text x="562.52" y="110.3" text-anchor="middle">5000</text><text x="586.94" y="110.3" text-anchor="middle">10000</text><text x="611.36" y="110.3" text-anchor="middle">15000</text><text x="635.78" y="110.3" text-anchor="middle">20000</text><text x="660.2" y="110.3" text-anchor="middle">25000</text></g>
<g clip-path="url(#c3)">
<path d="M538.1 98.69L539.86 95.64L541.62 92.69L543.38 89.82L545.14 87.04L546.9 84.33L548.66 81.69L550.42 79.12L552.18 76.6L553.94 74.14L555.69 71.75L557.45 69.43L559.21 67.18L560.97 65.01L562.73 62.9L564.49 60.88L566.25 58.94L568.01 57.09L569.77 55.34L571.53 53.68L573.29 52.11L575.05 50.63L576.81 49.24L578.57 47.91L580.33 46.64L582.09 45.41L583.85 44.22L585.61 43.05L587.37 41.91L589.12 40.78L590.88 39.67L592.64 38.59L594.4 37.54L596.16 36.53L597.92 35.54L599.68 34.59L601.44 33.68L603.2 32.81L604.96 31.99L606.72 31.21L608.48 30.48L610.24 29.8L612 29.18L613.76 28.6L615.52 28.06L617.28 27.56L619.04 27.11L620.8 26.68L622.55 26.23L624.31 25.79L626.07 25.38L627.83 24.99L629.59 24.63L631.35 24.28L633.11 23.96L634.87 23.65L636.63 23.36L638.39 23.08L640.15 22.82L641.91 22.56L643.67 22.32L645.43 22.09L647.19 21.79L648.95 21.49L650.71 21.19L652.47 20.89L654.23 20.6L655.98 20.3L657.74 20.01L659.5 19.71L661.26 19.4L663.02 19.09L664.78 18.77L666.54 18.44L668.3 18.1L670.06 17.74L671.82 17.38L673.58 16.99L675.34 16.59L677.1 16.17L677.1 29.02L675.34 29.09L673.58 29.14L671.82 29.18L670.06 29.19L668.3 29.2L666.54 29.19L664.78 29.17L663.02 29.14L661.26 29.1L659.5 29.05L657.74 29L655.98 28.95L654.23 28.89L652.47 28.83L650.71 28.78L648.95 28.72L647.19 28.67L645.43 28.63L643.67 28.68L641.91 28.73L640.15 28.8L638.39 28.87L636.63 28.96L634.87 29.06L633.11 29.18L631.35 29.32L629.59 29.47L627.83 29.65L626.07 29.85L624.31 30.07L622.55 30.32L620.8 30.61L619.04 30.99L617.28 31.41L615.52 31.86L613.76 32.36L612 32.9L610.24 33.49L608.48 34.13L606.72 34.81L604.96 35.55L603.2 36.34L601.44 37.16L599.68 38.03L597.92 38.94L596.16 39.89L594.4 40.86L592.64 41.87L590.88 42.91L589.12 43.98L587.37 45.06L585.61 46.17L583.85 47.3L582.09 48.46L580.33 49.65L578.57 50.88L576.81 52.17L575.05 53.53L573.29 54.96L571.53 56.49L569.77 58.12L568.01 59.83L566.25 61.64L564.49 63.54L562.73 65.53L560.97 67.61L559.21 69.78L557.45 72.03L555.69 74.35L553.94 76.74L552.18 79.2L550.42 81.72L548.66 84.29L546.9 86.93L545.14 89.64L543.38 92.42L541.62 95.29L539.86 98.24L538.1 101.29Z" fill="#dce6f3" stroke="none"/>
<line x1="538.1" y1="100" x2="679.3" y2="62.08" stroke="#747474" stroke-width="0.85" stroke-linecap="round" stroke-dasharray="0.25 1.75"/>
<g fill="rgba(25,55,150,0.3)" stroke="rgba(25,55,150,0.36)" stroke-width="0.5"><circle cx="576.4" cy="43.6" r="1.15"/><circle cx="568.3" cy="48.3" r="1.15"/><circle cx="573.2" cy="52.8" r="1.15"/><circle cx="577.7" cy="50" r="1.15"/><circle cx="553.7" cy="52.8" r="1.15"/><circle cx="549.5" cy="59.5" r="1.15"/><circle cx="555" cy="58.6" r="1.15"/><circle cx="559.3" cy="57.3" r="1.15"/><circle cx="570" cy="60.8" r="1.15"/><circle cx="545.6" cy="64.1" r="1.15"/><circle cx="541.8" cy="67.6" r="1.15"/><circle cx="541.8" cy="70.5" r="1.15"/><circle cx="554.6" cy="67.6" r="1.15"/><circle cx="562.9" cy="69.2" r="1.15"/><circle cx="570.9" cy="68.5" r="1.15"/><circle cx="570.9" cy="70.1" r="1.15"/><circle cx="558.1" cy="71" r="1.15"/><circle cx="583.2" cy="72.7" r="1.15"/><circle cx="546.5" cy="72.1" r="1.15"/><circle cx="550.7" cy="72.7" r="1.15"/><circle cx="543.1" cy="76.2" r="1.15"/><circle cx="546.9" cy="76.5" r="1.15"/><circle cx="549.8" cy="76.5" r="1.15"/><circle cx="544.3" cy="78.2" r="1.15"/><circle cx="543.7" cy="80.8" r="1.15"/><circle cx="559.1" cy="76.9" r="1.15"/><circle cx="560.4" cy="79.1" r="1.15"/><circle cx="555.2" cy="80.8" r="1.15"/><circle cx="549.5" cy="81.7" r="1.15"/><circle cx="552" cy="85.5" r="1.15"/><circle cx="555.2" cy="85.1" r="1.15"/><circle cx="540.1" cy="86.2" r="1.15"/><circle cx="548.8" cy="89.7" r="1.15"/><circle cx="555.2" cy="98.3" r="1.15"/><circle cx="546.9" cy="99" r="1.15"/><circle cx="635.5" cy="2.9" r="1.15"/><circle cx="651.5" cy="10.9" r="1.15"/><circle cx="677.1" cy="16.4" r="1.15"/><circle cx="592" cy="16.1" r="1.15"/><circle cx="607" cy="24.1" r="1.15"/><circle cx="588.8" cy="30.4" r="1.15"/><circle cx="580.7" cy="36.5" r="1.15"/><circle cx="644.2" cy="24.5" r="1.15"/><circle cx="620.9" cy="38.2" r="1.15"/><circle cx="621.6" cy="47.4" r="1.15"/><circle cx="650.8" cy="44.5" r="1.15"/><circle cx="654.5" cy="48.5" r="1.15"/><circle cx="592" cy="51.1" r="1.15"/><circle cx="612.4" cy="54.3" r="1.15"/><circle cx="602.6" cy="77.7" r="1.15"/><circle cx="556.3" cy="37.4" r="1.15"/><circle cx="575.5" cy="33.3" r="1.15"/><circle cx="543.1" cy="96.07" r="1.15"/><circle cx="541.5" cy="93.35" r="1.15"/><circle cx="544.28" cy="90.73" r="1.15"/><circle cx="541.46" cy="91.36" r="1.15"/><circle cx="544.38" cy="90.62" r="1.15"/><circle cx="541.14" cy="94.62" r="1.15"/><circle cx="540.88" cy="100.3" r="1.15"/><circle cx="539.96" cy="98.13" r="1.15"/><circle cx="539.85" cy="98.77" r="1.15"/><circle cx="543.65" cy="89.21" r="1.15"/><circle cx="540.26" cy="98.23" r="1.15"/><circle cx="547.41" cy="91.21" r="1.15"/><circle cx="543.07" cy="91.96" r="1.15"/><circle cx="541.62" cy="93.56" r="1.15"/><circle cx="537.6" cy="99.29" r="1.15"/><circle cx="541.19" cy="100.3" r="1.15"/><circle cx="539.3" cy="94.48" r="1.15"/><circle cx="537.84" cy="99.33" r="1.15"/><circle cx="540.32" cy="93.23" r="1.15"/><circle cx="541.3" cy="90.77" r="1.15"/><circle cx="543.57" cy="94.45" r="1.15"/><circle cx="542.51" cy="97.09" r="1.15"/><circle cx="538.14" cy="100.28" r="1.15"/><circle cx="539.26" cy="100.04" r="1.15"/><circle cx="542.17" cy="100.3" r="1.15"/><circle cx="542.14" cy="91.62" r="1.15"/><circle cx="544.31" cy="89.17" r="1.15"/><circle cx="540.71" cy="96.97" r="1.15"/><circle cx="541.31" cy="92.88" r="1.15"/><circle cx="542.31" cy="97.81" r="1.15"/><circle cx="541.56" cy="91.51" r="1.15"/><circle cx="541.89" cy="99.43" r="1.15"/><circle cx="542.99" cy="85.57" r="1.15"/><circle cx="541.98" cy="91.91" r="1.15"/><circle cx="545.73" cy="90.34" r="1.15"/><circle cx="544.28" cy="91.78" r="1.15"/><circle cx="544.23" cy="94.22" r="1.15"/><circle cx="543.96" cy="92.98" r="1.15"/><circle cx="543" cy="94.31" r="1.15"/><circle cx="545.97" cy="89.47" r="1.15"/></g>
<path d="M538.1 99.99L539.86 96.94L541.62 93.99L543.38 91.12L545.14 88.34L546.9 85.63L548.66 82.99L550.42 80.42L552.18 77.9L553.94 75.44L555.69 73.05L557.45 70.73L559.21 68.48L560.97 66.31L562.73 64.21L564.49 62.21L566.25 60.29L568.01 58.46L569.77 56.73L571.53 55.08L573.29 53.54L575.05 52.08L576.81 50.7L578.57 49.4L580.33 48.15L582.09 46.94L583.85 45.76L585.61 44.61L587.37 43.48L589.12 42.38L590.88 41.29L592.64 40.23L594.4 39.2L596.16 38.21L597.92 37.24L599.68 36.31L601.44 35.42L603.2 34.57L604.96 33.77L606.72 33.01L608.48 32.3L610.24 31.65L612 31.04L613.76 30.48L615.52 29.96L617.28 29.49L619.04 29.05L620.8 28.65L622.55 28.28L624.31 27.93L626.07 27.62L627.83 27.32L629.59 27.05L631.35 26.8L633.11 26.57L634.87 26.36L636.63 26.16L638.39 25.98L640.15 25.81L641.91 25.65L643.67 25.5L645.43 25.36L647.19 25.23L648.95 25.1L650.71 24.98L652.47 24.86L654.23 24.74L655.98 24.62L657.74 24.5L659.5 24.38L661.26 24.25L663.02 24.11L664.78 23.97L666.54 23.81L668.3 23.65L670.06 23.47L671.82 23.28L673.58 23.07L675.34 22.84L677.1 22.6" fill="none" stroke="#56709f" stroke-width="0.8"/>
</g>
<g font-size="12" fill="#111" stroke="#111" stroke-width="0.22" text-anchor="middle"><text x="652.1" y="84.4">PfCSP</text><text x="652.2" y="98.5">serum</text></g>
<clipPath id="c4"><rect x="44.1" y="115.5" width="141.4" height="101.7"/></clipPath>
<rect x="44.1" y="115.5" width="141.4" height="101.7" fill="#fff" stroke="#d9dbde" stroke-width="1"/>
<path d="M42.1 215.5h2M42.1 199.15h2M42.1 182.8h2M42.1 166.45h2M42.1 150.1h2M42.1 133.75h2M42.1 117.4h2M46.6 217.2v2M72.8 217.2v2M99 217.2v2M125.2 217.2v2M151.4 217.2v2M177.6 217.2v2" stroke="#c8c8c8" stroke-width="0.6" fill="none"/>
<g font-size="4.5" fill="#7a7a7a"><text x="40.9" y="218.1" text-anchor="end">0</text><text x="40.9" y="201.75" text-anchor="end">20000</text><text x="40.9" y="185.4" text-anchor="end">40000</text><text x="40.9" y="169.05" text-anchor="end">60000</text><text x="40.9" y="152.7" text-anchor="end">80000</text><text x="40.9" y="136.35" text-anchor="end">100000</text><text x="40.9" y="120" text-anchor="end">120000</text><text x="46.6" y="225.3" text-anchor="middle">0</text><text x="72.8" y="225.3" text-anchor="middle">10000</text><text x="99" y="225.3" text-anchor="middle">20000</text><text x="125.2" y="225.3" text-anchor="middle">30000</text><text x="151.4" y="225.3" text-anchor="middle">40000</text><text x="177.6" y="225.3" text-anchor="middle">50000</text></g>
<g clip-path="url(#c4)">
<path d="M46.6 214.17L48.3 209.63L50 205.47L51.7 201.65L53.41 198.16L55.11 194.95L56.81 191.99L58.51 189.24L60.21 186.69L61.91 184.3L63.61 182.04L65.31 179.91L67.02 177.89L68.72 175.95L70.42 174.08L72.12 172.27L73.82 170.51L75.52 168.81L77.22 167.17L78.93 165.56L80.63 164.02L82.33 162.53L84.03 161.12L85.73 159.77L87.43 158.49L89.13 157.28L90.83 156.14L92.54 155.08L94.24 154.1L95.94 153.19L97.64 152.35L99.34 151.59L101.04 150.9L102.74 150.28L104.45 149.72L106.15 149.23L107.85 148.8L109.55 148.43L111.25 148.12L112.95 147.87L114.65 147.67L116.36 147.52L118.06 147.42L119.76 147.37L121.46 147.37L123.16 147.41L124.86 147.49L126.56 147.62L128.26 147.79L129.97 148L131.67 148.24L133.37 148.51L135.07 148.81L136.77 149.14L138.47 149.49L140.17 149.87L141.88 150.27L143.58 150.69L145.28 151.13L146.98 151.58L148.68 152.05L150.38 152.52L152.08 153.01L153.78 153.5L155.49 154L157.19 154.5L158.89 155.01L160.59 155.51L162.29 156.01L163.99 156.5L165.69 156.94L167.4 157.36L169.1 157.76L170.8 158.15L172.5 158.53L174.2 158.88L175.9 159.22L177.6 159.54L179.3 159.83L181.01 160.1L181.01 166.59L179.3 166.16L177.6 165.7L175.9 165.22L174.2 164.72L172.5 164.2L170.8 163.66L169.1 163.11L167.4 162.54L165.69 161.96L163.99 161.4L162.29 160.87L160.59 160.33L158.89 159.8L157.19 159.26L155.49 158.72L153.78 158.18L152.08 157.66L150.38 157.13L148.68 156.62L146.98 156.12L145.28 155.63L143.58 155.16L141.88 154.71L140.17 154.27L138.47 153.86L136.77 153.47L135.07 153.1L133.37 152.77L131.67 152.46L129.97 152.19L128.26 151.95L126.56 151.74L124.86 151.57L123.16 151.43L121.46 151.34L119.76 151.29L118.06 151.29L116.36 151.33L114.65 151.43L112.95 151.57L111.25 151.77L109.55 152.03L107.85 152.35L106.15 152.72L104.45 153.16L102.74 153.66L101.04 154.23L99.34 154.87L97.64 155.58L95.94 156.36L94.24 157.22L92.54 158.15L90.83 159.16L89.13 160.24L87.43 161.4L85.73 162.62L84.03 163.92L82.33 165.28L80.63 166.71L78.93 168.21L77.22 169.77L75.52 171.41L73.82 173.11L72.12 174.87L70.42 176.68L68.72 178.55L67.02 180.49L65.31 182.51L63.61 184.64L61.91 186.9L60.21 189.29L58.51 191.84L56.81 194.59L55.11 197.55L53.41 200.76L51.7 204.25L50 208.07L48.3 212.23L46.6 216.77Z" fill="#dce6f3" stroke="none"/>
<line x1="46.6" y1="215.5" x2="185.5" y2="172.16" stroke="#747474" stroke-width="0.85" stroke-linecap="round" stroke-dasharray="0.25 1.75"/>
<g fill="rgba(25,55,150,0.3)" stroke="rgba(25,55,150,0.36)" stroke-width="0.5"><circle cx="66.2" cy="117.9" r="1.15"/><circle cx="66.2" cy="150.4" r="1.15"/><circle cx="58.8" cy="156.2" r="1.15"/><circle cx="70.3" cy="158.3" r="1.15"/><circle cx="78.4" cy="155.5" r="1.15"/><circle cx="84.7" cy="154.9" r="1.15"/><circle cx="86.3" cy="156.2" r="1.15"/><circle cx="91.4" cy="154.2" r="1.15"/><circle cx="91.9" cy="155.7" r="1.15"/><circle cx="92.9" cy="157.8" r="1.15"/><circle cx="80.7" cy="159.6" r="1.15"/><circle cx="79.6" cy="161" r="1.15"/><circle cx="78.6" cy="162.9" r="1.15"/><circle cx="76.6" cy="163.9" r="1.15"/><circle cx="65.9" cy="162.4" r="1.15"/><circle cx="69.5" cy="162.9" r="1.15"/><circle cx="88.8" cy="159.8" r="1.15"/><circle cx="91.4" cy="163.4" r="1.15"/><circle cx="57.2" cy="164.9" r="1.15"/><circle cx="51" cy="166.1" r="1.15"/><circle cx="55" cy="167.9" r="1.15"/><circle cx="59.9" cy="167" r="1.15"/><circle cx="57.7" cy="169.8" r="1.15"/><circle cx="63.5" cy="166.7" r="1.15"/><circle cx="66.9" cy="165.5" r="1.15"/><circle cx="66.6" cy="167.9" r="1.15"/><circle cx="66" cy="169.5" r="1.15"/><circle cx="71.2" cy="166.7" r="1.15"/><circle cx="72.4" cy="167.9" r="1.15"/><circle cx="72.1" cy="165.8" r="1.15"/><circle cx="80" cy="166.1" r="1.15"/><circle cx="82.5" cy="167.9" r="1.15"/><circle cx="80.6" cy="160.6" r="1.15"/><circle cx="59.6" cy="171.3" r="1.15"/><circle cx="62.9" cy="172.2" r="1.15"/><circle cx="54.1" cy="173.1" r="1.15"/><circle cx="56.2" cy="174.7" r="1.15"/><circle cx="52.5" cy="174" r="1.15"/><circle cx="65.7" cy="174.4" r="1.15"/><circle cx="68.1" cy="176.2" r="1.15"/><circle cx="72.4" cy="176.2" r="1.15"/><circle cx="73.9" cy="175.9" r="1.15"/><circle cx="77" cy="171" r="1.15"/><circle cx="77.6" cy="173.7" r="1.15"/><circle cx="60.2" cy="176.8" r="1.15"/><circle cx="62.3" cy="177.7" r="1.15"/><circle cx="51" cy="177.4" r="1.15"/><circle cx="60.2" cy="181.1" r="1.15"/><circle cx="57.1" cy="182.6" r="1.15"/><circle cx="56.2" cy="180.8" r="1.15"/><circle cx="53.2" cy="180.8" r="1.15"/><circle cx="50.7" cy="181.1" r="1.15"/><circle cx="64.8" cy="180.2" r="1.15"/><circle cx="70.9" cy="180.8" r="1.15"/><circle cx="73.9" cy="181.1" r="1.15"/><circle cx="50.1" cy="185" r="1.15"/><circle cx="51.3" cy="185.6" r="1.15"/><circle cx="53.5" cy="186.3" r="1.15"/><circle cx="57.7" cy="185.6" r="1.15"/><circle cx="64.5" cy="186" r="1.15"/><circle cx="73" cy="185" r="1.15"/><circle cx="80" cy="186.9" r="1.15"/><circle cx="69" cy="188.7" r="1.15"/><circle cx="57.1" cy="188.1" r="1.15"/><circle cx="49.8" cy="188.7" r="1.15"/><circle cx="54.1" cy="191.5" r="1.15"/><circle cx="59.6" cy="192.5" r="1.15"/><circle cx="57" cy="201" r="1.15"/><circle cx="61.3" cy="199.4" r="1.15"/><circle cx="64.2" cy="197.7" r="1.15"/><circle cx="70.1" cy="190.9" r="1.15"/><circle cx="70.7" cy="193.2" r="1.15"/><circle cx="75.3" cy="192.2" r="1.15"/><circle cx="75.9" cy="191.2" r="1.15"/><circle cx="51.8" cy="215.3" r="1.15"/><circle cx="106.6" cy="145.1" r="1.15"/><circle cx="97.4" cy="154.8" r="1.15"/><circle cx="98.8" cy="157.8" r="1.15"/><circle cx="97.2" cy="160.9" r="1.15"/><circle cx="104.4" cy="156.8" r="1.15"/><circle cx="105.4" cy="158.3" r="1.15"/><circle cx="106.2" cy="159.3" r="1.15"/><circle cx="103.9" cy="158.8" r="1.15"/><circle cx="93" cy="163.4" r="1.15"/><circle cx="96.4" cy="164.4" r="1.15"/><circle cx="100.1" cy="162.9" r="1.15"/><circle cx="108.9" cy="161.9" r="1.15"/><circle cx="107.9" cy="163.4" r="1.15"/><circle cx="109.5" cy="165.3" r="1.15"/><circle cx="110.7" cy="167" r="1.15"/><circle cx="114" cy="161.2" r="1.15"/><circle cx="115.8" cy="164.4" r="1.15"/><circle cx="122.2" cy="159.9" r="1.15"/><circle cx="121.5" cy="164.6" r="1.15"/><circle cx="125.2" cy="164.2" r="1.15"/><circle cx="128.6" cy="162.6" r="1.15"/><circle cx="131.4" cy="158.3" r="1.15"/><circle cx="133.9" cy="161.4" r="1.15"/><circle cx="86" cy="167.3" r="1.15"/><circle cx="89.9" cy="167.3" r="1.15"/><circle cx="91.6" cy="169.7" r="1.15"/><circle cx="98.3" cy="169.5" r="1.15"/><circle cx="100.3" cy="169.7" r="1.15"/><circle cx="103.3" cy="167.3" r="1.15"/><circle cx="104.4" cy="171.4" r="1.15"/><circle cx="97.4" cy="172.4" r="1.15"/><circle cx="90.1" cy="173.1" r="1.15"/><circle cx="87.6" cy="175.1" r="1.15"/><circle cx="92.1" cy="175.4" r="1.15"/><circle cx="90.6" cy="177.7" r="1.15"/><circle cx="91.1" cy="178.7" r="1.15"/><circle cx="97.2" cy="176.9" r="1.15"/><circle cx="125.8" cy="174.8" r="1.15"/><circle cx="88.3" cy="183.8" r="1.15"/><circle cx="138" cy="151.9" r="1.15"/><circle cx="146.9" cy="156.4" r="1.15"/><circle cx="141.2" cy="160.7" r="1.15"/><circle cx="138.8" cy="164.2" r="1.15"/><circle cx="137" cy="166" r="1.15"/><circle cx="149.4" cy="161.2" r="1.15"/><circle cx="155.2" cy="161.2" r="1.15"/><circle cx="162.4" cy="161.2" r="1.15"/><circle cx="160.7" cy="164.6" r="1.15"/><circle cx="145.9" cy="170.9" r="1.15"/><circle cx="169" cy="156.1" r="1.15"/><circle cx="179.8" cy="150.4" r="1.15"/><circle cx="178" cy="152.9" r="1.15"/><circle cx="179" cy="155.7" r="1.15"/><circle cx="181.7" cy="159.9" r="1.15"/><circle cx="178.5" cy="162.8" r="1.15"/><circle cx="180.6" cy="164.2" r="1.15"/><circle cx="182.2" cy="167" r="1.15"/><circle cx="174.8" cy="166.7" r="1.15"/><circle cx="182.9" cy="172" r="1.15"/><circle cx="179.8" cy="186.1" r="1.15"/><circle cx="105.4" cy="157" r="1.15"/><circle cx="89.6" cy="179.4" r="1.15"/><circle cx="100.6" cy="196.2" r="1.15"/><circle cx="50.31" cy="203.27" r="1.15"/><circle cx="50.55" cy="201.45" r="1.15"/><circle cx="51.31" cy="200.22" r="1.15"/><circle cx="48.68" cy="207.23" r="1.15"/><circle cx="49" cy="203.1" r="1.15"/><circle cx="49.02" cy="208.23" r="1.15"/><circle cx="51.25" cy="191.6" r="1.15"/><circle cx="47.12" cy="199.98" r="1.15"/><circle cx="49.32" cy="192.98" r="1.15"/><circle cx="46.37" cy="214.02" r="1.15"/><circle cx="46.56" cy="209.05" r="1.15"/><circle cx="50.14" cy="203.58" r="1.15"/><circle cx="48.74" cy="199.49" r="1.15"/><circle cx="49.33" cy="207.27" r="1.15"/><circle cx="50.06" cy="195.18" r="1.15"/><circle cx="49.13" cy="209.87" r="1.15"/><circle cx="51.26" cy="196.98" r="1.15"/><circle cx="48.08" cy="209.64" r="1.15"/><circle cx="47.88" cy="204.12" r="1.15"/><circle cx="50.92" cy="191.45" r="1.15"/><circle cx="53.53" cy="184.21" r="1.15"/><circle cx="47.21" cy="215.33" r="1.15"/><circle cx="48.8" cy="209.27" r="1.15"/><circle cx="48.7" cy="191.26" r="1.15"/><circle cx="51.25" cy="187.03" r="1.15"/><circle cx="51.26" cy="190.52" r="1.15"/><circle cx="47.38" cy="212.78" r="1.15"/><circle cx="46.74" cy="204.07" r="1.15"/><circle cx="45.97" cy="213.37" r="1.15"/><circle cx="50.71" cy="188.13" r="1.15"/><circle cx="46.95" cy="211.86" r="1.15"/><circle cx="46.91" cy="210.97" r="1.15"/><circle cx="48.03" cy="206.69" r="1.15"/><circle cx="50.52" cy="203.39" r="1.15"/><circle cx="46.78" cy="215.13" r="1.15"/><circle cx="49.05" cy="210.34" r="1.15"/><circle cx="47.11" cy="207.22" r="1.15"/><circle cx="49" cy="189.33" r="1.15"/><circle cx="50.06" cy="199.31" r="1.15"/><circle cx="50.43" cy="186.53" r="1.15"/><circle cx="48.78" cy="198.26" r="1.15"/><circle cx="47.92" cy="214.91" r="1.15"/><circle cx="53.26" cy="188.42" r="1.15"/><circle cx="47.95" cy="213.65" r="1.15"/><circle cx="45.73" cy="215.16" r="1.15"/><circle cx="50.72" cy="194.61" r="1.15"/><circle cx="51.43" cy="199.32" r="1.15"/><circle cx="48.65" cy="206.64" r="1.15"/><circle cx="50.3" cy="191" r="1.15"/><circle cx="49.86" cy="204.95" r="1.15"/><circle cx="48.62" cy="208.11" r="1.15"/><circle cx="48.03" cy="212.18" r="1.15"/><circle cx="49.39" cy="191.15" r="1.15"/><circle cx="52.37" cy="194.83" r="1.15"/><circle cx="47.16" cy="200.98" r="1.15"/><circle cx="50.5" cy="201.98" r="1.15"/><circle cx="47.68" cy="199.32" r="1.15"/><circle cx="48.63" cy="197.79" r="1.15"/><circle cx="48.71" cy="186.88" r="1.15"/><circle cx="49.08" cy="191.66" r="1.15"/><circle cx="50.33" cy="197.67" r="1.15"/><circle cx="46.43" cy="214.24" r="1.15"/><circle cx="50.33" cy="195.94" r="1.15"/><circle cx="48.03" cy="205.03" r="1.15"/><circle cx="50.36" cy="201.63" r="1.15"/><circle cx="47.44" cy="214.56" r="1.15"/><circle cx="48.75" cy="206.48" r="1.15"/><circle cx="47.01" cy="215.49" r="1.15"/><circle cx="46.69" cy="206.24" r="1.15"/><circle cx="46.54" cy="214.96" r="1.15"/><circle cx="48.49" cy="203.24" r="1.15"/><circle cx="50.02" cy="197.96" r="1.15"/><circle cx="51.55" cy="196.51" r="1.15"/><circle cx="48.48" cy="188.85" r="1.15"/><circle cx="47.84" cy="196.08" r="1.15"/></g>
<path d="M46.6 215.47L48.3 210.93L50 206.77L51.7 202.95L53.41 199.46L55.11 196.25L56.81 193.29L58.51 190.54L60.21 187.99L61.91 185.6L63.61 183.34L65.31 181.21L67.02 179.19L68.72 177.25L70.42 175.38L72.12 173.57L73.82 171.81L75.52 170.11L77.22 168.47L78.93 166.88L80.63 165.36L82.33 163.91L84.03 162.52L85.73 161.2L87.43 159.94L89.13 158.76L90.83 157.65L92.54 156.62L94.24 155.66L95.94 154.77L97.64 153.97L99.34 153.23L101.04 152.57L102.74 151.97L104.45 151.44L106.15 150.98L107.85 150.57L109.55 150.23L111.25 149.95L112.95 149.72L114.65 149.55L116.36 149.43L118.06 149.35L119.76 149.33L121.46 149.36L123.16 149.42L124.86 149.53L126.56 149.68L128.26 149.87L129.97 150.09L131.67 150.35L133.37 150.64L135.07 150.96L136.77 151.3L138.47 151.68L140.17 152.07L141.88 152.49L143.58 152.93L145.28 153.38L146.98 153.85L148.68 154.33L150.38 154.83L152.08 155.33L153.78 155.84L155.49 156.36L157.19 156.88L158.89 157.4L160.59 157.92L162.29 158.44L163.99 158.95L165.69 159.45L167.4 159.95L169.1 160.44L170.8 160.91L172.5 161.36L174.2 161.8L175.9 162.22L177.6 162.62L179.3 163L181.01 163.35" fill="none" stroke="#56709f" stroke-width="0.8"/>
</g>
<g font-size="12" fill="#111" stroke="#111" stroke-width="0.22" text-anchor="middle"><text x="148.7" y="195.6">PfMSP1-19</text><text x="148.5" y="209.8">DBS</text></g>
<clipPath id="c5"><rect x="211.1" y="115" width="141.4" height="100.5"/></clipPath>
<rect x="211.1" y="115" width="141.4" height="100.5" fill="#fff" stroke="#d9dbde" stroke-width="1"/>
<path d="M209.1 212.2h2M209.1 175.6h2M209.1 139h2M213.6 215.5v2M253.03 215.5v2M292.47 215.5v2M331.9 215.5v2" stroke="#c8c8c8" stroke-width="0.6" fill="none"/>
<g font-size="4.5" fill="#7a7a7a"><text x="207.9" y="214.8" text-anchor="end">0</text><text x="207.9" y="178.2" text-anchor="end">20000</text><text x="207.9" y="141.6" text-anchor="end">40000</text><text x="213.6" y="223.6" text-anchor="middle">0</text><text x="253.03" y="223.6" text-anchor="middle">5000</text><text x="292.47" y="223.6" text-anchor="middle">10000</text><text x="331.9" y="223.6" text-anchor="middle">15000</text></g>
<g clip-path="url(#c5)">
<path d="M213.6 210.91L215.33 209.25L217.06 207.59L218.79 205.93L220.53 204.26L222.26 202.6L223.99 200.93L225.72 199.27L227.45 197.61L229.18 195.95L230.92 194.29L232.65 192.64L234.38 190.99L236.11 189.35L237.84 187.71L239.57 186.08L241.31 184.46L243.04 182.84L244.77 181.24L246.5 179.64L248.23 178.05L249.96 176.48L251.69 174.91L253.43 173.36L255.16 171.82L256.89 170.29L258.62 168.77L260.35 167.27L262.08 165.79L263.82 164.32L265.55 162.87L267.28 161.44L269.01 160.03L270.74 158.63L272.47 157.25L274.21 155.9L275.94 154.56L277.67 153.25L279.4 151.95L281.13 150.69L282.86 149.44L284.59 148.22L286.33 147.02L288.06 145.85L289.79 144.71L291.52 143.59L293.25 142.5L294.98 141.44L296.72 140.41L298.45 139.41L300.18 138.43L301.91 137.48L303.64 136.56L305.37 135.66L307.1 134.78L308.84 133.93L310.57 133.1L312.3 132.29L314.03 131.49L315.76 130.7L317.49 129.92L319.23 129.16L320.96 128.42L322.69 127.68L324.42 126.96L326.15 126.25L327.88 125.55L329.62 124.86L331.35 124.17L333.08 123.49L334.81 122.82L336.54 122.15L338.27 121.48L340 120.82L341.74 120.15L343.47 119.49L345.2 118.82L346.93 118.15L348.66 117.48L350.39 116.8L350.39 120.09L348.66 120.74L346.93 121.38L345.2 122.02L343.47 122.65L341.74 123.28L340 123.92L338.27 124.55L336.54 125.18L334.81 125.82L333.08 126.46L331.35 127.11L329.62 127.76L327.88 128.42L326.15 129.09L324.42 129.76L322.69 130.45L320.96 131.15L319.23 131.87L317.49 132.59L315.76 133.34L314.03 134.1L312.3 134.89L310.57 135.7L308.84 136.53L307.1 137.38L305.37 138.26L303.64 139.16L301.91 140.08L300.18 141.03L298.45 142.01L296.72 143.01L294.98 144.04L293.25 145.1L291.52 146.19L289.79 147.31L288.06 148.45L286.33 149.62L284.59 150.82L282.86 152.04L281.13 153.29L279.4 154.55L277.67 155.85L275.94 157.16L274.21 158.5L272.47 159.85L270.74 161.23L269.01 162.63L267.28 164.04L265.55 165.47L263.82 166.92L262.08 168.39L260.35 169.87L258.62 171.37L256.89 172.89L255.16 174.42L253.43 175.96L251.69 177.51L249.96 179.08L248.23 180.65L246.5 182.24L244.77 183.84L243.04 185.44L241.31 187.06L239.57 188.68L237.84 190.31L236.11 191.95L234.38 193.59L232.65 195.24L230.92 196.89L229.18 198.55L227.45 200.21L225.72 201.87L223.99 203.53L222.26 205.2L220.53 206.86L218.79 208.53L217.06 210.19L215.33 211.85L213.6 213.51Z" fill="#dce6f3" stroke="none"/>
<line x1="213.6" y1="212.2" x2="352.5" y2="179.97" stroke="#747474" stroke-width="0.85" stroke-linecap="round" stroke-dasharray="0.25 1.75"/>
<g fill="rgba(25,55,150,0.3)" stroke="rgba(25,55,150,0.36)" stroke-width="0.5"><circle cx="237.1" cy="172" r="1.15"/><circle cx="290.6" cy="133.1" r="1.15"/><circle cx="307.5" cy="142.9" r="1.15"/><circle cx="350.4" cy="117.8" r="1.15"/><circle cx="217.6" cy="203.3" r="1.15"/><circle cx="218.7" cy="203.8" r="1.15"/><circle cx="219.9" cy="206.7" r="1.15"/><circle cx="224.9" cy="209.9" r="1.15"/><circle cx="222.4" cy="211.5" r="1.15"/><circle cx="221.3" cy="211.1" r="1.15"/><circle cx="214.14" cy="211.46" r="1.15"/><circle cx="217.22" cy="208.89" r="1.15"/><circle cx="212.6" cy="211.45" r="1.15"/><circle cx="214.22" cy="211.74" r="1.15"/><circle cx="216.56" cy="209.97" r="1.15"/><circle cx="217.46" cy="206.71" r="1.15"/><circle cx="217.9" cy="210.28" r="1.15"/><circle cx="218.11" cy="208.52" r="1.15"/><circle cx="216.99" cy="209.17" r="1.15"/><circle cx="213.56" cy="212.07" r="1.15"/><circle cx="213.58" cy="211.51" r="1.15"/><circle cx="215.29" cy="208.99" r="1.15"/><circle cx="216.07" cy="208.38" r="1.15"/><circle cx="218.43" cy="207.24" r="1.15"/><circle cx="216" cy="210.62" r="1.15"/><circle cx="213.21" cy="212.11" r="1.15"/><circle cx="217.11" cy="209.2" r="1.15"/><circle cx="212.6" cy="212.14" r="1.15"/><circle cx="216.59" cy="212.37" r="1.15"/><circle cx="215.47" cy="211.48" r="1.15"/><circle cx="215.47" cy="211.48" r="1.15"/><circle cx="213.32" cy="212.6" r="1.15"/><circle cx="212.6" cy="212.8" r="1.15"/><circle cx="213.3" cy="211.48" r="1.15"/><circle cx="214.14" cy="209.96" r="1.15"/><circle cx="213.01" cy="212.8" r="1.15"/><circle cx="216.03" cy="210.87" r="1.15"/><circle cx="213.28" cy="211.22" r="1.15"/><circle cx="217.96" cy="208.11" r="1.15"/><circle cx="217.57" cy="210.02" r="1.15"/><circle cx="215.63" cy="209.52" r="1.15"/><circle cx="215.32" cy="209.28" r="1.15"/><circle cx="213.6" cy="211.59" r="1.15"/><circle cx="216.89" cy="211.53" r="1.15"/><circle cx="216.12" cy="210.75" r="1.15"/><circle cx="212.6" cy="210.21" r="1.15"/><circle cx="216.63" cy="210.35" r="1.15"/><circle cx="217.84" cy="211.57" r="1.15"/><circle cx="215.77" cy="212.39" r="1.15"/><circle cx="214.5" cy="208.6" r="1.15"/></g>
<path d="M213.6 212.21L215.33 210.55L217.06 208.89L218.79 207.23L220.53 205.56L222.26 203.9L223.99 202.23L225.72 200.57L227.45 198.91L229.18 197.25L230.92 195.59L232.65 193.94L234.38 192.29L236.11 190.65L237.84 189.01L239.57 187.38L241.31 185.76L243.04 184.14L244.77 182.54L246.5 180.94L248.23 179.35L249.96 177.78L251.69 176.21L253.43 174.66L255.16 173.12L256.89 171.59L258.62 170.07L260.35 168.57L262.08 167.09L263.82 165.62L265.55 164.17L267.28 162.74L269.01 161.33L270.74 159.93L272.47 158.55L274.21 157.2L275.94 155.86L277.67 154.55L279.4 153.25L281.13 151.99L282.86 150.74L284.59 149.52L286.33 148.32L288.06 147.15L289.79 146.01L291.52 144.89L293.25 143.8L294.98 142.74L296.72 141.71L298.45 140.71L300.18 139.73L301.91 138.78L303.64 137.86L305.37 136.96L307.1 136.08L308.84 135.23L310.57 134.4L312.3 133.59L314.03 132.79L315.76 132.02L317.49 131.26L319.23 130.51L320.96 129.78L322.69 129.07L324.42 128.36L326.15 127.67L327.88 126.98L329.62 126.31L331.35 125.64L333.08 124.98L334.81 124.32L336.54 123.67L338.27 123.02L340 122.37L341.74 121.72L343.47 121.07L345.2 120.42L346.93 119.77L348.66 119.11L350.39 118.45" fill="none" stroke="#56709f" stroke-width="0.8"/>
</g>
<g font-size="12" fill="#111" stroke="#111" stroke-width="0.22" text-anchor="middle"><text x="312.8" y="194.4">PvMSP1-19</text><text x="312.3" y="209.3">DBS</text></g>
<clipPath id="c6"><rect x="374.1" y="115" width="140.9" height="101.2"/></clipPath>
<rect x="374.1" y="115" width="140.9" height="101.2" fill="#fff" stroke="#d9dbde" stroke-width="1"/>
<path d="M372.1 214.2h2M372.1 190h2M372.1 165.8h2M372.1 141.6h2M372.1 117.4h2M376.6 216.2v2M410.58 216.2v2M444.55 216.2v2M478.52 216.2v2M512.5 216.2v2" stroke="#c8c8c8" stroke-width="0.6" fill="none"/>
<g font-size="4.5" fill="#7a7a7a"><text x="370.9" y="216.8" text-anchor="end">0</text><text x="370.9" y="192.6" text-anchor="end">5000</text><text x="370.9" y="168.4" text-anchor="end">10000</text><text x="370.9" y="144.2" text-anchor="end">15000</text><text x="370.9" y="120" text-anchor="end">20000</text><text x="376.6" y="224.3" text-anchor="middle">0</text><text x="410.58" y="224.3" text-anchor="middle">1000</text><text x="444.55" y="224.3" text-anchor="middle">2000</text><text x="478.52" y="224.3" text-anchor="middle">3000</text><text x="512.5" y="224.3" text-anchor="middle">4000</text></g>
<g clip-path="url(#c6)">
<path d="M376.6 212.9L378.26 212.03L379.92 211.15L381.59 210.28L383.25 209.4L384.91 208.52L386.57 207.65L388.24 206.77L389.9 205.88L391.56 205L393.22 204.11L394.88 203.22L396.55 202.33L398.21 201.43L399.87 200.54L401.53 199.63L403.2 198.73L404.86 197.82L406.52 196.9L408.18 195.98L409.84 195.06L411.51 194.13L413.17 193.19L414.83 192.25L416.49 191.3L418.15 190.35L419.82 189.39L421.48 188.43L423.14 187.45L424.8 186.47L426.47 185.49L428.13 184.49L429.79 183.49L431.45 182.46L433.11 181.43L434.78 180.38L436.44 179.33L438.1 178.26L439.76 177.19L441.43 176.11L443.09 175.01L444.75 173.91L446.41 172.76L448.07 171.61L449.74 170.45L451.4 169.27L453.06 168.08L454.72 166.89L456.39 165.68L458.05 164.45L459.71 163.22L461.37 161.97L463.03 160.71L464.7 159.44L466.36 158.15L468.02 156.85L469.68 155.53L471.35 154.21L473.01 152.86L474.67 151.51L476.33 150.13L477.99 148.75L479.66 147.26L481.32 145.73L482.98 144.18L484.64 142.61L486.3 141.03L487.97 139.43L489.63 137.81L491.29 136.18L492.95 134.53L494.62 132.86L496.28 131.17L497.94 129.46L499.6 127.74L501.26 126L502.93 124.24L504.59 122.46L506.25 120.66L507.91 118.84L507.91 129.49L506.25 130.98L504.59 132.45L502.93 133.9L501.26 135.33L499.6 136.75L497.94 138.14L496.28 139.52L494.62 140.88L492.95 142.22L491.29 143.54L489.63 144.84L487.97 146.13L486.3 147.41L484.64 148.66L482.98 149.9L481.32 151.12L479.66 152.33L477.99 153.56L476.33 154.85L474.67 156.13L473.01 157.39L471.35 158.64L469.68 159.87L468.02 161.09L466.36 162.3L464.7 163.49L463.03 164.67L461.37 165.83L459.71 166.99L458.05 168.13L456.39 169.25L454.72 170.37L453.06 171.47L451.4 172.57L449.74 173.65L448.07 174.72L446.41 175.77L444.75 176.82L443.09 177.89L441.43 178.94L439.76 179.99L438.1 181.03L436.44 182.06L434.78 183.08L433.11 184.09L431.45 185.09L429.79 186.09L428.13 187.09L426.47 188.09L424.8 189.07L423.14 190.05L421.48 191.03L419.82 191.99L418.15 192.95L416.49 193.9L414.83 194.85L413.17 195.79L411.51 196.73L409.84 197.66L408.18 198.58L406.52 199.5L404.86 200.42L403.2 201.33L401.53 202.23L399.87 203.14L398.21 204.03L396.55 204.93L394.88 205.82L393.22 206.71L391.56 207.6L389.9 208.48L388.24 209.37L386.57 210.25L384.91 211.12L383.25 212L381.59 212.88L379.92 213.75L378.26 214.63L376.6 215.5Z" fill="#dce6f3" stroke="none"/>
<line x1="376.6" y1="214.2" x2="515" y2="194.48" stroke="#747474" stroke-width="0.85" stroke-linecap="round" stroke-dasharray="0.25 1.75"/>
<g fill="rgba(25,55,150,0.3)" stroke="rgba(25,55,150,0.36)" stroke-width="0.5"><circle cx="397.9" cy="158.5" r="1.15"/><circle cx="402" cy="170.5" r="1.15"/><circle cx="401.3" cy="172.5" r="1.15"/><circle cx="402.6" cy="184.4" r="1.15"/><circle cx="423.4" cy="181.1" r="1.15"/><circle cx="430.6" cy="185.7" r="1.15"/><circle cx="398.6" cy="191.6" r="1.15"/><circle cx="387.6" cy="194.3" r="1.15"/><circle cx="388.3" cy="198.8" r="1.15"/><circle cx="387" cy="201.8" r="1.15"/><circle cx="393.1" cy="201.6" r="1.15"/><circle cx="408.8" cy="195.7" r="1.15"/><circle cx="420.7" cy="192.6" r="1.15"/><circle cx="403.7" cy="204.3" r="1.15"/><circle cx="415.6" cy="207" r="1.15"/><circle cx="401.3" cy="209.8" r="1.15"/><circle cx="408.8" cy="210.3" r="1.15"/><circle cx="405.4" cy="211.1" r="1.15"/><circle cx="396.5" cy="210" r="1.15"/><circle cx="393.1" cy="210.7" r="1.15"/><circle cx="380.1" cy="210" r="1.15"/><circle cx="507.9" cy="123.4" r="1.15"/><circle cx="387.96" cy="211.42" r="1.15"/><circle cx="387.93" cy="210.97" r="1.15"/><circle cx="381.44" cy="212.97" r="1.15"/><circle cx="383.64" cy="212.93" r="1.15"/><circle cx="388.96" cy="212.48" r="1.15"/><circle cx="381.41" cy="212.44" r="1.15"/><circle cx="380.12" cy="212.73" r="1.15"/><circle cx="389.07" cy="211.95" r="1.15"/><circle cx="381.21" cy="213.22" r="1.15"/><circle cx="386.06" cy="213.81" r="1.15"/><circle cx="378.52" cy="212.99" r="1.15"/><circle cx="382.37" cy="212.34" r="1.15"/><circle cx="377.98" cy="214.4" r="1.15"/><circle cx="388.13" cy="212.8" r="1.15"/><circle cx="382.71" cy="212.81" r="1.15"/><circle cx="388.33" cy="211.48" r="1.15"/><circle cx="379.71" cy="213.54" r="1.15"/><circle cx="376.84" cy="213.26" r="1.15"/><circle cx="380.13" cy="212.61" r="1.15"/><circle cx="380.74" cy="212.7" r="1.15"/><circle cx="378.94" cy="212.14" r="1.15"/><circle cx="378.83" cy="214.27" r="1.15"/><circle cx="380.5" cy="213.29" r="1.15"/><circle cx="378.48" cy="213.45" r="1.15"/><circle cx="383.39" cy="213.86" r="1.15"/><circle cx="380.14" cy="212" r="1.15"/><circle cx="388.38" cy="212.51" r="1.15"/><circle cx="380.37" cy="213.26" r="1.15"/><circle cx="380.52" cy="212.87" r="1.15"/><circle cx="380.45" cy="213.42" r="1.15"/><circle cx="380.03" cy="214.2" r="1.15"/><circle cx="385.26" cy="212.85" r="1.15"/><circle cx="377.54" cy="214.04" r="1.15"/><circle cx="386.71" cy="213.56" r="1.15"/><circle cx="380.03" cy="213.68" r="1.15"/><circle cx="387.91" cy="212.28" r="1.15"/><circle cx="383.98" cy="212.31" r="1.15"/><circle cx="388.05" cy="213.2" r="1.15"/><circle cx="382.52" cy="212.75" r="1.15"/><circle cx="380.33" cy="213.49" r="1.15"/><circle cx="389.01" cy="212.2" r="1.15"/><circle cx="380.97" cy="213.46" r="1.15"/><circle cx="379.96" cy="212.96" r="1.15"/><circle cx="381.81" cy="213.8" r="1.15"/><circle cx="382.13" cy="213.15" r="1.15"/></g>
<path d="M376.6 214.2L378.26 213.33L379.92 212.45L381.59 211.58L383.25 210.7L384.91 209.82L386.57 208.95L388.24 208.07L389.9 207.18L391.56 206.3L393.22 205.41L394.88 204.52L396.55 203.63L398.21 202.73L399.87 201.84L401.53 200.93L403.2 200.03L404.86 199.12L406.52 198.2L408.18 197.28L409.84 196.36L411.51 195.43L413.17 194.49L414.83 193.55L416.49 192.6L418.15 191.65L419.82 190.69L421.48 189.73L423.14 188.75L424.8 187.77L426.47 186.79L428.13 185.79L429.79 184.79L431.45 183.78L433.11 182.76L434.78 181.73L436.44 180.69L438.1 179.65L439.76 178.59L441.43 177.53L443.09 176.45L444.75 175.37L446.41 174.27L448.07 173.16L449.74 172.05L451.4 170.92L453.06 169.78L454.72 168.63L456.39 167.46L458.05 166.29L459.71 165.1L461.37 163.9L463.03 162.69L464.7 161.46L466.36 160.22L468.02 158.97L469.68 157.7L471.35 156.42L473.01 155.13L474.67 153.82L476.33 152.49L477.99 151.15L479.66 149.8L481.32 148.43L482.98 147.04L484.64 145.64L486.3 144.22L487.97 142.78L489.63 141.33L491.29 139.86L492.95 138.37L494.62 136.87L496.28 135.34L497.94 133.8L499.6 132.24L501.26 130.67L502.93 129.07L504.59 127.45L506.25 125.82L507.91 124.16" fill="none" stroke="#56709f" stroke-width="0.8"/>
</g>
<g font-size="12" fill="#111" stroke="#111" stroke-width="0.22" text-anchor="middle"><text x="475.7" y="197.3">PmMSP1-19</text><text x="475.6" y="211.8">DBS</text></g>
<clipPath id="c7"><rect x="535.6" y="115.5" width="143.7" height="100.7"/></clipPath>
<rect x="535.6" y="115.5" width="143.7" height="100.7" fill="#fff" stroke="#d9dbde" stroke-width="1"/>
<path d="M533.6 214.2h2M533.6 187.4h2M533.6 160.6h2M533.6 133.8h2M537.8 216.2v2M577.17 216.2v2M616.53 216.2v2M655.9 216.2v2" stroke="#c8c8c8" stroke-width="0.6" fill="none"/>
<g font-size="4.5" fill="#7a7a7a"><text x="532.4" y="216.8" text-anchor="end">0</text><text x="532.4" y="190" text-anchor="end">20000</text><text x="532.4" y="163.2" text-anchor="end">40000</text><text x="532.4" y="136.4" text-anchor="end">60000</text><text x="537.8" y="224.3" text-anchor="middle">0</text><text x="577.17" y="224.3" text-anchor="middle">5000</text><text x="616.53" y="224.3" text-anchor="middle">10000</text><text x="655.9" y="224.3" text-anchor="middle">15000</text></g>
<g clip-path="url(#c7)">
<path d="M537.8 212.9L539.55 209.94L541.31 207.07L543.06 204.26L544.81 201.53L546.57 198.87L548.32 196.28L550.07 193.77L551.83 191.32L553.58 188.94L555.33 186.63L557.09 184.39L558.84 182.22L560.59 180.11L562.35 178.08L564.1 176.1L565.85 174.19L567.61 172.34L569.36 170.55L571.11 168.83L572.87 167.18L574.62 165.59L576.37 164.07L578.13 162.61L579.88 161.22L581.63 159.87L583.38 158.58L585.14 157.32L586.89 156.1L588.64 154.92L590.4 153.77L592.15 152.64L593.9 151.54L595.66 150.46L597.41 149.4L599.16 148.37L600.92 147.36L602.67 146.37L604.42 145.42L606.18 144.5L607.93 143.61L609.68 142.76L611.44 141.94L613.19 141.16L614.94 140.42L616.7 139.71L618.45 139.05L620.2 138.42L621.96 137.83L623.71 137.27L625.46 136.75L627.22 136.26L628.97 135.8L630.72 135.37L632.48 134.95L634.23 134.5L635.98 134.06L637.74 133.65L639.49 133.26L641.24 132.88L643 132.53L644.75 132.18L646.5 131.85L648.26 131.53L650.01 131.22L651.76 130.92L653.52 130.62L655.27 130.33L657.02 129.98L658.78 129.61L660.53 129.23L662.28 128.85L664.03 128.46L665.79 128.07L667.54 127.67L669.29 127.26L671.05 126.84L672.8 126.41L674.55 125.96L676.31 125.49L676.31 136.48L674.55 136.58L672.8 136.66L671.05 136.73L669.29 136.78L667.54 136.82L665.79 136.85L664.03 136.87L662.28 136.89L660.53 136.9L658.78 136.91L657.02 136.92L655.27 136.95L653.52 137.05L651.76 137.15L650.01 137.25L648.26 137.36L646.5 137.48L644.75 137.62L643 137.76L641.24 137.92L639.49 138.1L637.74 138.29L635.98 138.5L634.23 138.74L632.48 138.99L630.72 139.35L628.97 139.73L627.22 140.15L625.46 140.59L623.71 141.07L621.96 141.58L620.2 142.13L618.45 142.71L616.7 143.34L614.94 144L613.19 144.7L611.44 145.43L609.68 146.2L607.93 147.01L606.18 147.85L604.42 148.73L602.67 149.64L600.92 150.58L599.16 151.56L597.41 152.56L595.66 153.59L593.9 154.64L592.15 155.71L590.4 156.81L588.64 157.93L586.89 159.08L585.14 160.27L583.38 161.49L581.63 162.76L579.88 164.08L578.13 165.44L576.37 166.87L574.62 168.36L572.87 169.92L571.11 171.54L569.36 173.23L567.61 174.99L565.85 176.81L564.1 178.7L562.35 180.68L560.59 182.71L558.84 184.82L557.09 186.99L555.33 189.23L553.58 191.54L551.83 193.92L550.07 196.37L548.32 198.88L546.57 201.47L544.81 204.13L543.06 206.86L541.31 209.67L539.55 212.54L537.8 215.5Z" fill="#dce6f3" stroke="none"/>
<line x1="537.8" y1="214.2" x2="679.3" y2="190.12" stroke="#747474" stroke-width="0.85" stroke-linecap="round" stroke-dasharray="0.25 1.75"/>
<g fill="rgba(25,55,150,0.3)" stroke="rgba(25,55,150,0.36)" stroke-width="0.5"><circle cx="580.7" cy="150.3" r="1.15"/><circle cx="560.6" cy="156.8" r="1.15"/><circle cx="574.6" cy="159.5" r="1.15"/><circle cx="567.7" cy="162" r="1.15"/><circle cx="557.1" cy="166.1" r="1.15"/><circle cx="562.6" cy="165.3" r="1.15"/><circle cx="577" cy="175.9" r="1.15"/><circle cx="594.3" cy="185.2" r="1.15"/><circle cx="544.3" cy="176.6" r="1.15"/><circle cx="545.9" cy="180" r="1.15"/><circle cx="548.9" cy="180.7" r="1.15"/><circle cx="553" cy="178.9" r="1.15"/><circle cx="548.6" cy="184.4" r="1.15"/><circle cx="558.5" cy="181.4" r="1.15"/><circle cx="572.1" cy="187.5" r="1.15"/><circle cx="554.1" cy="190.2" r="1.15"/><circle cx="555.7" cy="189.6" r="1.15"/><circle cx="559.3" cy="190.9" r="1.15"/><circle cx="546.6" cy="193.9" r="1.15"/><circle cx="549.3" cy="196.4" r="1.15"/><circle cx="551.6" cy="196.1" r="1.15"/><circle cx="540.5" cy="198.8" r="1.15"/><circle cx="541.8" cy="198.8" r="1.15"/><circle cx="541.8" cy="201.8" r="1.15"/><circle cx="545.9" cy="200.5" r="1.15"/><circle cx="547.3" cy="204.8" r="1.15"/><circle cx="551.6" cy="204.3" r="1.15"/><circle cx="562.6" cy="206.2" r="1.15"/><circle cx="542.5" cy="204.3" r="1.15"/><circle cx="627.1" cy="117.1" r="1.15"/><circle cx="651.6" cy="118.6" r="1.15"/><circle cx="676.7" cy="127.8" r="1.15"/><circle cx="599.3" cy="131.8" r="1.15"/><circle cx="638.2" cy="136.1" r="1.15"/><circle cx="648.2" cy="138.5" r="1.15"/><circle cx="655.3" cy="147.5" r="1.15"/><circle cx="605" cy="152.4" r="1.15"/><circle cx="608.5" cy="161.4" r="1.15"/><circle cx="629.2" cy="157.5" r="1.15"/><circle cx="631.7" cy="169.9" r="1.15"/><circle cx="579.5" cy="139.4" r="1.15"/><circle cx="586.5" cy="141.2" r="1.15"/><circle cx="584.6" cy="147.6" r="1.15"/><circle cx="542.45" cy="211.18" r="1.15"/><circle cx="543.27" cy="210.39" r="1.15"/><circle cx="543.7" cy="208.48" r="1.15"/><circle cx="542.77" cy="211.94" r="1.15"/><circle cx="539.3" cy="211.68" r="1.15"/><circle cx="539.77" cy="212.79" r="1.15"/><circle cx="540.01" cy="213.22" r="1.15"/><circle cx="540.67" cy="211.58" r="1.15"/><circle cx="539.56" cy="213.43" r="1.15"/><circle cx="542.77" cy="210.42" r="1.15"/><circle cx="541.26" cy="211.34" r="1.15"/><circle cx="539.06" cy="210.98" r="1.15"/><circle cx="543.89" cy="209.92" r="1.15"/><circle cx="539.56" cy="213.17" r="1.15"/><circle cx="539.91" cy="212.8" r="1.15"/><circle cx="540.22" cy="213.59" r="1.15"/><circle cx="539.48" cy="212" r="1.15"/><circle cx="546.56" cy="208.06" r="1.15"/><circle cx="539.31" cy="211.71" r="1.15"/><circle cx="539.83" cy="212.99" r="1.15"/><circle cx="540.03" cy="211.12" r="1.15"/><circle cx="542.89" cy="209.23" r="1.15"/><circle cx="539.42" cy="211.49" r="1.15"/><circle cx="542.36" cy="212.17" r="1.15"/><circle cx="542.09" cy="210.41" r="1.15"/><circle cx="541.06" cy="214.3" r="1.15"/><circle cx="542.08" cy="211.54" r="1.15"/><circle cx="542.25" cy="209.93" r="1.15"/><circle cx="544.04" cy="210.49" r="1.15"/><circle cx="543.23" cy="212.8" r="1.15"/><circle cx="539.12" cy="210.1" r="1.15"/><circle cx="542.27" cy="212.1" r="1.15"/><circle cx="538.55" cy="212.99" r="1.15"/><circle cx="539.09" cy="211.07" r="1.15"/><circle cx="542.08" cy="213.4" r="1.15"/><circle cx="540.47" cy="209.33" r="1.15"/><circle cx="545.86" cy="209.53" r="1.15"/><circle cx="544.11" cy="207.64" r="1.15"/></g>
<path d="M537.8 214.2L539.55 211.24L541.31 208.37L543.06 205.56L544.81 202.83L546.57 200.17L548.32 197.58L550.07 195.07L551.83 192.62L553.58 190.24L555.33 187.93L557.09 185.69L558.84 183.52L560.59 181.41L562.35 179.38L564.1 177.4L565.85 175.5L567.61 173.66L569.36 171.89L571.11 170.19L572.87 168.55L574.62 166.98L576.37 165.47L578.13 164.03L579.88 162.65L581.63 161.32L583.38 160.04L585.14 158.8L586.89 157.59L588.64 156.42L590.4 155.29L592.15 154.18L593.9 153.09L595.66 152.02L597.41 150.98L599.16 149.96L600.92 148.97L602.67 148.01L604.42 147.07L606.18 146.18L607.93 145.31L609.68 144.48L611.44 143.69L613.19 142.93L614.94 142.21L616.7 141.53L618.45 140.88L620.2 140.27L621.96 139.7L623.71 139.17L625.46 138.67L627.22 138.2L628.97 137.77L630.72 137.36L632.48 136.97L634.23 136.62L635.98 136.28L637.74 135.97L639.49 135.68L641.24 135.4L643 135.14L644.75 134.9L646.5 134.67L648.26 134.45L650.01 134.24L651.76 134.03L653.52 133.83L655.27 133.64L657.02 133.45L658.78 133.26L660.53 133.06L662.28 132.87L664.03 132.67L665.79 132.46L667.54 132.25L669.29 132.02L671.05 131.78L672.8 131.53L674.55 131.27L676.31 130.99" fill="none" stroke="#56709f" stroke-width="0.8"/>
</g>
<g font-size="12" fill="#111" stroke="#111" stroke-width="0.22" text-anchor="middle"><text x="654.7" y="197">PfCSP</text><text x="654.9" y="211">DBS</text></g>
<clipPath id="c8"><rect x="41.1" y="235.5" width="146.3" height="105.4"/></clipPath>
<rect x="41.1" y="235.5" width="146.3" height="105.4" fill="#fff" stroke="#d9dbde" stroke-width="1"/>
<path d="M39.1 339.6h2M39.1 314.18h2M39.1 288.75h2M39.1 263.33h2M39.1 237.9h2M43.6 340.9v2M71.64 340.9v2M99.68 340.9v2M127.72 340.9v2M155.76 340.9v2M183.8 340.9v2" stroke="#c8c8c8" stroke-width="0.6" fill="none"/>
<g font-size="4.5" fill="#7a7a7a"><text x="37.9" y="342.2" text-anchor="end">0</text><text x="37.9" y="316.78" text-anchor="end">20000</text><text x="37.9" y="291.35" text-anchor="end">40000</text><text x="37.9" y="265.93" text-anchor="end">60000</text><text x="37.9" y="240.5" text-anchor="end">80000</text><text x="43.6" y="349" text-anchor="middle">0</text><text x="71.64" y="349" text-anchor="middle">10000</text><text x="99.68" y="349" text-anchor="middle">20000</text><text x="127.72" y="349" text-anchor="middle">30000</text><text x="155.76" y="349" text-anchor="middle">40000</text><text x="183.8" y="349" text-anchor="middle">50000</text></g>
<g clip-path="url(#c8)">
<path d="M43.6 338.33L45.29 334.12L46.99 329.98L48.68 325.91L50.38 321.92L52.07 318.03L53.77 314.23L55.46 310.54L57.16 306.93L58.85 303.43L60.55 300.06L62.24 296.82L63.94 293.73L65.63 290.78L67.33 287.99L69.02 285.36L70.72 282.89L72.41 280.56L74.11 278.38L75.8 276.35L77.5 274.45L79.19 272.68L80.89 271.04L82.58 269.53L84.28 268.14L85.97 266.86L87.67 265.69L89.36 264.62L91.06 263.66L92.75 262.8L94.44 262.03L96.14 261.34L97.83 260.74L99.53 260.22L101.22 259.76L102.92 259.37L104.61 259.06L106.31 258.81L108 258.62L109.7 258.5L111.39 258.44L113.09 258.44L114.78 258.49L116.48 258.6L118.17 258.76L119.87 258.96L121.56 259.22L123.26 259.51L124.95 259.85L126.65 260.22L128.34 260.64L130.04 261.09L131.73 261.57L133.43 262.08L135.12 262.62L136.82 263.18L138.51 263.76L140.2 264.36L141.9 264.98L143.59 265.62L145.29 266.26L146.98 266.91L148.68 267.58L150.37 268.23L152.07 268.82L153.76 269.4L155.46 269.99L157.15 270.57L158.85 271.14L160.54 271.7L162.24 272.25L163.93 272.78L165.63 273.3L167.32 273.77L169.02 274.17L170.71 274.54L172.41 274.89L174.1 275.2L175.8 275.48L177.49 275.73L177.49 288.44L175.8 287.79L174.1 287.09L172.41 286.37L170.71 285.62L169.02 284.83L167.32 284.03L165.63 283.26L163.93 282.49L162.24 281.7L160.54 280.9L158.85 280.08L157.15 279.25L155.46 278.42L153.76 277.58L152.07 276.73L150.37 275.89L148.68 275.12L146.98 274.36L145.29 273.61L143.59 272.87L141.9 272.14L140.2 271.43L138.51 270.73L136.82 270.05L135.12 269.39L133.43 268.76L131.73 268.15L130.04 267.57L128.34 267.03L126.65 266.51L124.95 266.03L123.26 265.58L121.56 265.18L119.87 264.82L118.17 264.51L116.48 264.24L114.78 264.03L113.09 263.87L111.39 263.76L109.7 263.72L108 263.73L106.31 263.81L104.61 263.95L102.92 264.16L101.22 264.44L99.53 264.79L97.83 265.23L96.14 265.76L94.44 266.36L92.75 267.06L91.06 267.85L89.36 268.73L87.67 269.72L85.97 270.81L84.28 272.01L82.58 273.33L80.89 274.77L79.19 276.33L77.5 278.02L75.8 279.84L74.11 281.8L72.41 283.9L70.72 286.15L69.02 288.55L67.33 291.1L65.63 293.81L63.94 296.68L62.24 299.7L60.55 302.86L58.85 306.16L57.16 309.58L55.46 313.14L53.77 316.83L52.07 320.63L50.38 324.52L48.68 328.51L46.99 332.58L45.29 336.72L43.6 340.93Z" fill="#dce6f3" stroke="none"/>
<line x1="43.6" y1="339.6" x2="187.4" y2="274.41" stroke="#747474" stroke-width="0.85" stroke-linecap="round" stroke-dasharray="0.25 1.75"/>
<g fill="rgba(25,55,150,0.3)" stroke="rgba(25,55,150,0.36)" stroke-width="0.5"><circle cx="67" cy="248.7" r="1.15"/><circle cx="80.7" cy="254.9" r="1.15"/><circle cx="90.7" cy="258.6" r="1.15"/><circle cx="62.6" cy="262" r="1.15"/><circle cx="65.6" cy="263.3" r="1.15"/><circle cx="72.8" cy="266.8" r="1.15"/><circle cx="81.5" cy="266.4" r="1.15"/><circle cx="67.3" cy="268.8" r="1.15"/><circle cx="70" cy="269.1" r="1.15"/><circle cx="68" cy="270.8" r="1.15"/><circle cx="79.2" cy="269.6" r="1.15"/><circle cx="79.7" cy="271.5" r="1.15"/><circle cx="85.8" cy="268.6" r="1.15"/><circle cx="90.4" cy="274.2" r="1.15"/><circle cx="50.2" cy="270.4" r="1.15"/><circle cx="54.2" cy="273.2" r="1.15"/><circle cx="43.9" cy="278.3" r="1.15"/><circle cx="56.8" cy="277.3" r="1.15"/><circle cx="58.3" cy="276.8" r="1.15"/><circle cx="62.2" cy="275.9" r="1.15"/><circle cx="66.5" cy="276.8" r="1.15"/><circle cx="66" cy="279" r="1.15"/><circle cx="69.7" cy="274.7" r="1.15"/><circle cx="72.6" cy="276.8" r="1.15"/><circle cx="73.4" cy="278.3" r="1.15"/><circle cx="61.4" cy="279.8" r="1.15"/><circle cx="55.3" cy="281.3" r="1.15"/><circle cx="57.3" cy="282.4" r="1.15"/><circle cx="62.4" cy="282.4" r="1.15"/><circle cx="79.5" cy="281.3" r="1.15"/><circle cx="84.3" cy="281.8" r="1.15"/><circle cx="88.4" cy="282.9" r="1.15"/><circle cx="51.7" cy="284.4" r="1.15"/><circle cx="56.2" cy="281.9" r="1.15"/><circle cx="71.9" cy="285.1" r="1.15"/><circle cx="82" cy="285.3" r="1.15"/><circle cx="79.5" cy="286.3" r="1.15"/><circle cx="49.6" cy="288.6" r="1.15"/><circle cx="53" cy="289.1" r="1.15"/><circle cx="56.2" cy="287.6" r="1.15"/><circle cx="64.4" cy="286.9" r="1.15"/><circle cx="56.8" cy="291.4" r="1.15"/><circle cx="58.7" cy="292.6" r="1.15"/><circle cx="48.6" cy="293.9" r="1.15"/><circle cx="50.5" cy="294.1" r="1.15"/><circle cx="61.2" cy="294.5" r="1.15"/><circle cx="62.2" cy="293.6" r="1.15"/><circle cx="71.6" cy="293.3" r="1.15"/><circle cx="73.2" cy="296.4" r="1.15"/><circle cx="77" cy="296.2" r="1.15"/><circle cx="46.7" cy="298.9" r="1.15"/><circle cx="48.6" cy="299.2" r="1.15"/><circle cx="53.6" cy="300.2" r="1.15"/><circle cx="63.7" cy="298.9" r="1.15"/><circle cx="67.5" cy="299.9" r="1.15"/><circle cx="75.1" cy="301.7" r="1.15"/><circle cx="47.3" cy="303.4" r="1.15"/><circle cx="52.6" cy="303.4" r="1.15"/><circle cx="61.8" cy="303.4" r="1.15"/><circle cx="63.1" cy="307.1" r="1.15"/><circle cx="75.3" cy="306.3" r="1.15"/><circle cx="46" cy="309" r="1.15"/><circle cx="49.8" cy="309" r="1.15"/><circle cx="54.3" cy="310.3" r="1.15"/><circle cx="71.9" cy="310.3" r="1.15"/><circle cx="70.3" cy="312.6" r="1.15"/><circle cx="58.7" cy="311.6" r="1.15"/><circle cx="45.4" cy="314.1" r="1.15"/><circle cx="54.3" cy="314.1" r="1.15"/><circle cx="63.7" cy="315.4" r="1.15"/><circle cx="53.6" cy="317.9" r="1.15"/><circle cx="62.5" cy="320.4" r="1.15"/><circle cx="50.5" cy="328" r="1.15"/><circle cx="51.7" cy="327.3" r="1.15"/><circle cx="66.3" cy="334" r="1.15"/><circle cx="90.2" cy="302.1" r="1.15"/><circle cx="90" cy="308.8" r="1.15"/><circle cx="93.6" cy="243.1" r="1.15"/><circle cx="122.8" cy="240.9" r="1.15"/><circle cx="90" cy="268.1" r="1.15"/><circle cx="106.8" cy="264.7" r="1.15"/><circle cx="111.4" cy="262.5" r="1.15"/><circle cx="117.5" cy="262.5" r="1.15"/><circle cx="115.3" cy="266.6" r="1.15"/><circle cx="111.6" cy="268.1" r="1.15"/><circle cx="119.8" cy="270.4" r="1.15"/><circle cx="92.1" cy="275.2" r="1.15"/><circle cx="106.3" cy="274.7" r="1.15"/><circle cx="111.2" cy="274.5" r="1.15"/><circle cx="135" cy="276.8" r="1.15"/><circle cx="108.9" cy="282.9" r="1.15"/><circle cx="130.6" cy="283.4" r="1.15"/><circle cx="116.5" cy="284.7" r="1.15"/><circle cx="154.9" cy="259.9" r="1.15"/><circle cx="168.4" cy="260.4" r="1.15"/><circle cx="178" cy="270.1" r="1.15"/><circle cx="156.2" cy="271.1" r="1.15"/><circle cx="156.5" cy="273.9" r="1.15"/><circle cx="141.2" cy="275" r="1.15"/><circle cx="152.4" cy="277.8" r="1.15"/><circle cx="155.9" cy="279.9" r="1.15"/><circle cx="167.3" cy="276.7" r="1.15"/><circle cx="167.6" cy="282.8" r="1.15"/><circle cx="144.1" cy="285.7" r="1.15"/><circle cx="101.4" cy="287" r="1.15"/><circle cx="120.4" cy="289.9" r="1.15"/><circle cx="132.1" cy="288.8" r="1.15"/><circle cx="154.9" cy="286.6" r="1.15"/><circle cx="157.3" cy="287.3" r="1.15"/><circle cx="175.6" cy="286.6" r="1.15"/><circle cx="177.3" cy="287.6" r="1.15"/><circle cx="174.1" cy="295.3" r="1.15"/><circle cx="96.8" cy="293.9" r="1.15"/><circle cx="95.3" cy="296.1" r="1.15"/><circle cx="104.8" cy="296.4" r="1.15"/><circle cx="120.4" cy="294.3" r="1.15"/><circle cx="126.2" cy="295.8" r="1.15"/><circle cx="142.3" cy="299.3" r="1.15"/><circle cx="91.2" cy="301.9" r="1.15"/><circle cx="91.6" cy="308.9" r="1.15"/><circle cx="112.5" cy="304.8" r="1.15"/><circle cx="44.24" cy="336.14" r="1.15"/><circle cx="43.99" cy="338.77" r="1.15"/><circle cx="52.4" cy="297.64" r="1.15"/><circle cx="47.53" cy="322.75" r="1.15"/><circle cx="46.23" cy="305.22" r="1.15"/><circle cx="43.2" cy="338.55" r="1.15"/><circle cx="47.51" cy="318.48" r="1.15"/><circle cx="44.9" cy="336.72" r="1.15"/><circle cx="46.29" cy="319.19" r="1.15"/><circle cx="44.3" cy="322.35" r="1.15"/><circle cx="49.23" cy="317.83" r="1.15"/><circle cx="44.64" cy="337.35" r="1.15"/><circle cx="46.96" cy="325.03" r="1.15"/><circle cx="46.78" cy="326.37" r="1.15"/><circle cx="44.81" cy="325.2" r="1.15"/><circle cx="44.37" cy="333.17" r="1.15"/><circle cx="47.77" cy="299.29" r="1.15"/><circle cx="44.61" cy="325.66" r="1.15"/><circle cx="45.33" cy="335.8" r="1.15"/><circle cx="44.21" cy="337.58" r="1.15"/><circle cx="46.19" cy="312.46" r="1.15"/><circle cx="49.83" cy="306.79" r="1.15"/><circle cx="44.32" cy="312.14" r="1.15"/><circle cx="50.2" cy="308.25" r="1.15"/><circle cx="48.47" cy="299.22" r="1.15"/><circle cx="43.72" cy="332.05" r="1.15"/><circle cx="49.93" cy="310.33" r="1.15"/><circle cx="44.07" cy="338.25" r="1.15"/><circle cx="43.8" cy="329.08" r="1.15"/><circle cx="49.56" cy="298.19" r="1.15"/><circle cx="46.83" cy="326.77" r="1.15"/><circle cx="50.75" cy="301.75" r="1.15"/><circle cx="46.11" cy="299.99" r="1.15"/><circle cx="46.94" cy="310.88" r="1.15"/><circle cx="45.35" cy="330.96" r="1.15"/><circle cx="47.15" cy="295.98" r="1.15"/><circle cx="43.91" cy="334.6" r="1.15"/><circle cx="45.8" cy="295.74" r="1.15"/><circle cx="44.01" cy="321.26" r="1.15"/><circle cx="42.78" cy="339.15" r="1.15"/><circle cx="43.82" cy="338.71" r="1.15"/><circle cx="48.6" cy="320.84" r="1.15"/><circle cx="45.62" cy="325.64" r="1.15"/><circle cx="43.21" cy="331.9" r="1.15"/><circle cx="45.65" cy="330.94" r="1.15"/><circle cx="45.2" cy="302.19" r="1.15"/><circle cx="50.65" cy="297.39" r="1.15"/><circle cx="44.82" cy="335.22" r="1.15"/><circle cx="43.82" cy="322.38" r="1.15"/><circle cx="47.22" cy="303.63" r="1.15"/><circle cx="51.44" cy="300.94" r="1.15"/><circle cx="43.73" cy="324.04" r="1.15"/><circle cx="42.95" cy="334.48" r="1.15"/><circle cx="45.31" cy="309.17" r="1.15"/><circle cx="51.08" cy="306.92" r="1.15"/><circle cx="45.82" cy="298.61" r="1.15"/><circle cx="43.61" cy="334.86" r="1.15"/><circle cx="44.35" cy="314.15" r="1.15"/><circle cx="43.66" cy="338.51" r="1.15"/><circle cx="48.83" cy="306.37" r="1.15"/><circle cx="43.98" cy="337.32" r="1.15"/><circle cx="43.87" cy="319.89" r="1.15"/><circle cx="44.49" cy="329.51" r="1.15"/><circle cx="48.64" cy="315.92" r="1.15"/><circle cx="43.46" cy="337.94" r="1.15"/><circle cx="49.47" cy="312.25" r="1.15"/><circle cx="45.02" cy="322.35" r="1.15"/><circle cx="43.05" cy="339.46" r="1.15"/><circle cx="44.72" cy="332.67" r="1.15"/><circle cx="43.67" cy="339.33" r="1.15"/><circle cx="44.33" cy="331.8" r="1.15"/><circle cx="50.02" cy="310.69" r="1.15"/><circle cx="47.01" cy="321.28" r="1.15"/><circle cx="43.75" cy="339.73" r="1.15"/><circle cx="43.18" cy="332.67" r="1.15"/><circle cx="48.5" cy="298.79" r="1.15"/><circle cx="43.54" cy="329.07" r="1.15"/><circle cx="43.99" cy="334.01" r="1.15"/><circle cx="47.68" cy="313.84" r="1.15"/><circle cx="45.36" cy="317.98" r="1.15"/></g>
<path d="M43.6 339.63L45.29 335.42L46.99 331.28L48.68 327.21L50.38 323.22L52.07 319.33L53.77 315.53L55.46 311.84L57.16 308.26L58.85 304.79L60.55 301.46L62.24 298.26L63.94 295.2L65.63 292.3L67.33 289.55L69.02 286.95L70.72 284.52L72.41 282.23L74.11 280.09L75.8 278.09L77.5 276.23L79.19 274.51L80.89 272.91L82.58 271.43L84.28 270.07L85.97 268.83L87.67 267.7L89.36 266.68L91.06 265.75L92.75 264.93L94.44 264.2L96.14 263.55L97.83 262.99L99.53 262.51L101.22 262.1L102.92 261.77L104.61 261.5L106.31 261.31L108 261.18L109.7 261.11L111.39 261.1L113.09 261.15L114.78 261.26L116.48 261.42L118.17 261.63L119.87 261.89L121.56 262.2L123.26 262.55L124.95 262.94L126.65 263.37L128.34 263.83L130.04 264.33L131.73 264.86L133.43 265.42L135.12 266.01L136.82 266.62L138.51 267.25L140.2 267.9L141.9 268.56L143.59 269.24L145.29 269.94L146.98 270.64L148.68 271.35L150.37 272.06L152.07 272.78L153.76 273.49L155.46 274.2L157.15 274.91L158.85 275.61L160.54 276.3L162.24 276.97L163.93 277.63L165.63 278.28L167.32 278.9L169.02 279.5L170.71 280.08L172.41 280.63L174.1 281.15L175.8 281.63L177.49 282.09" fill="none" stroke="#56709f" stroke-width="0.8"/>
</g>
<g font-size="12" fill="#111" stroke="#111" stroke-width="0.22" text-anchor="middle"><text x="156.7" y="317.4">PfAMA1</text><text x="157" y="332.3">serum</text></g>
<clipPath id="c9"><rect x="207.9" y="235" width="147.9" height="106"/></clipPath>
<rect x="207.9" y="235" width="147.9" height="106" fill="#fff" stroke="#d9dbde" stroke-width="1"/>
<path d="M205.9 338.2h2M205.9 309.73h2M205.9 281.27h2M205.9 252.8h2M209.9 341v2M250 341v2M290.1 341v2M330.2 341v2" stroke="#c8c8c8" stroke-width="0.6" fill="none"/>
<g font-size="4.5" fill="#7a7a7a"><text x="204.7" y="340.8" text-anchor="end">0</text><text x="204.7" y="312.33" text-anchor="end">20000</text><text x="204.7" y="283.87" text-anchor="end">40000</text><text x="204.7" y="255.4" text-anchor="end">60000</text><text x="209.9" y="349.1" text-anchor="middle">0</text><text x="250" y="349.1" text-anchor="middle">10000</text><text x="290.1" y="349.1" text-anchor="middle">20000</text><text x="330.2" y="349.1" text-anchor="middle">30000</text></g>
<g clip-path="url(#c9)">
<path d="M209.9 336.9L211.72 331.97L213.54 327.27L215.36 322.79L217.18 318.52L219 314.45L220.82 310.55L222.64 306.79L224.46 303.2L226.28 299.78L228.1 296.52L229.92 293.42L231.74 290.42L233.56 287.56L235.38 284.83L237.2 282.22L239.02 279.73L240.84 277.34L242.66 275.04L244.48 272.84L246.3 270.74L248.12 268.73L249.95 266.82L251.77 265.12L253.59 263.53L255.41 262.04L257.23 260.65L259.05 259.37L260.87 258.2L262.69 257.13L264.51 256.18L266.33 255.33L268.15 254.59L269.97 253.96L271.79 253.42L273.61 252.97L275.43 252.6L277.25 252.31L279.07 252.09L280.89 251.93L282.71 251.82L284.53 251.77L286.35 251.76L288.17 251.8L289.99 251.88L291.81 252L293.63 252.16L295.45 252.35L297.27 252.56L299.09 252.8L300.91 253.06L302.73 253.34L304.55 253.63L306.37 253.94L308.19 254.25L310.01 254.57L311.83 254.89L313.65 255.21L315.47 255.52L317.29 255.82L319.11 256.11L320.93 256.39L322.75 256.64L324.57 256.88L326.4 257.08L328.22 257.26L330.04 257.41L331.86 257.39L333.68 257.32L335.5 257.2L337.32 257.04L339.14 256.83L340.96 256.57L342.78 256.25L344.6 255.87L346.42 255.43L348.24 254.92L350.06 254.34L351.88 253.69L353.7 252.97L353.7 262.64L351.88 263.08L350.06 263.45L348.24 263.74L346.42 263.96L344.6 264.11L342.78 264.21L340.96 264.24L339.14 264.21L337.32 264.14L335.5 264.01L333.68 263.84L331.86 263.63L330.04 263.39L328.22 263.24L326.4 263.06L324.57 262.85L322.75 262.62L320.93 262.36L319.11 262.09L317.29 261.8L315.47 261.5L313.65 261.19L311.83 260.87L310.01 260.55L308.19 260.23L306.37 259.92L304.55 259.61L302.73 259.32L300.91 259.04L299.09 258.78L297.27 258.54L295.45 258.32L293.63 258.14L291.81 257.98L289.99 257.86L288.17 257.78L286.35 257.74L284.53 257.75L282.71 257.8L280.89 257.91L279.07 258.07L277.25 258.29L275.43 258.58L273.61 258.95L271.79 259.4L269.97 259.94L268.15 260.57L266.33 261.31L264.51 262.15L262.69 263.11L260.87 264.18L259.05 265.35L257.23 266.63L255.41 268.02L253.59 269.51L251.77 271.1L249.95 272.79L248.12 274.47L246.3 276.24L244.48 278.12L242.66 280.08L240.84 282.15L239.02 284.3L237.2 286.57L235.38 288.94L233.56 291.44L231.74 294.07L229.92 296.83L228.1 299.78L226.28 302.88L224.46 306.15L222.64 309.58L220.82 313.19L219 317.05L217.18 321.12L215.36 325.39L213.54 329.87L211.72 334.57L209.9 339.5Z" fill="#dce6f3" stroke="none"/>
<line x1="209.9" y1="338.2" x2="355.8" y2="286.41" stroke="#747474" stroke-width="0.85" stroke-linecap="round" stroke-dasharray="0.25 1.75"/>
<g fill="rgba(25,55,150,0.3)" stroke="rgba(25,55,150,0.36)" stroke-width="0.5"><circle cx="227.4" cy="272.6" r="1.15"/><circle cx="215.3" cy="281" r="1.15"/><circle cx="226.8" cy="290.8" r="1.15"/><circle cx="239.1" cy="284.4" r="1.15"/><circle cx="217.1" cy="294.2" r="1.15"/><circle cx="213.6" cy="301.2" r="1.15"/><circle cx="218.3" cy="305.9" r="1.15"/><circle cx="226.8" cy="301.5" r="1.15"/><circle cx="216.5" cy="314.7" r="1.15"/><circle cx="218.3" cy="321" r="1.15"/><circle cx="212.1" cy="325" r="1.15"/><circle cx="211.7" cy="329.4" r="1.15"/><circle cx="214.6" cy="331.6" r="1.15"/><circle cx="220" cy="334.2" r="1.15"/><circle cx="223" cy="335.7" r="1.15"/><circle cx="210.2" cy="330.9" r="1.15"/><circle cx="354.5" cy="237.3" r="1.15"/><circle cx="267" cy="275.6" r="1.15"/><circle cx="309.3" cy="269.1" r="1.15"/><circle cx="347.5" cy="283.8" r="1.15"/><circle cx="212.08" cy="335.16" r="1.15"/><circle cx="209.74" cy="337.58" r="1.15"/><circle cx="210.79" cy="336.01" r="1.15"/><circle cx="211.3" cy="334.81" r="1.15"/><circle cx="212.73" cy="333.69" r="1.15"/><circle cx="211.1" cy="335.62" r="1.15"/><circle cx="209.11" cy="337.17" r="1.15"/><circle cx="210.38" cy="336.54" r="1.15"/><circle cx="213.82" cy="334.63" r="1.15"/><circle cx="213.62" cy="335.11" r="1.15"/><circle cx="209.08" cy="337.79" r="1.15"/><circle cx="211.49" cy="335.8" r="1.15"/><circle cx="209.02" cy="337.08" r="1.15"/><circle cx="213" cy="336.72" r="1.15"/><circle cx="211.66" cy="337.68" r="1.15"/><circle cx="211.37" cy="337.23" r="1.15"/><circle cx="211.79" cy="338.6" r="1.15"/><circle cx="208.7" cy="337.64" r="1.15"/><circle cx="210.75" cy="338.53" r="1.15"/><circle cx="212.98" cy="333.94" r="1.15"/><circle cx="211.41" cy="337.75" r="1.15"/><circle cx="211.9" cy="335.5" r="1.15"/><circle cx="212.58" cy="334.72" r="1.15"/><circle cx="211.92" cy="334.35" r="1.15"/><circle cx="214.15" cy="334.77" r="1.15"/><circle cx="211.6" cy="337.34" r="1.15"/><circle cx="211.33" cy="337.08" r="1.15"/><circle cx="212.51" cy="335.96" r="1.15"/><circle cx="210.24" cy="338.02" r="1.15"/><circle cx="212.08" cy="333.83" r="1.15"/></g>
<path d="M209.9 338.2L211.72 333.27L213.54 328.57L215.36 324.09L217.18 319.82L219 315.75L220.82 311.87L222.64 308.18L224.46 304.67L226.28 301.33L228.1 298.15L229.92 295.13L231.74 292.25L233.56 289.5L235.38 286.89L237.2 284.4L239.02 282.02L240.84 279.74L242.66 277.56L244.48 275.48L246.3 273.49L248.12 271.6L249.95 269.81L251.77 268.11L253.59 266.52L255.41 265.03L257.23 263.64L259.05 262.36L260.87 261.19L262.69 260.12L264.51 259.17L266.33 258.32L268.15 257.58L269.97 256.95L271.79 256.41L273.61 255.96L275.43 255.59L277.25 255.3L279.07 255.08L280.89 254.92L282.71 254.81L284.53 254.76L286.35 254.75L288.17 254.79L289.99 254.87L291.81 254.99L293.63 255.15L295.45 255.34L297.27 255.55L299.09 255.79L300.91 256.05L302.73 256.33L304.55 256.62L306.37 256.93L308.19 257.24L310.01 257.56L311.83 257.88L313.65 258.2L315.47 258.51L317.29 258.81L319.11 259.1L320.93 259.38L322.75 259.63L324.57 259.87L326.4 260.07L328.22 260.25L330.04 260.4L331.86 260.51L333.68 260.58L335.5 260.61L337.32 260.59L339.14 260.52L340.96 260.4L342.78 260.23L344.6 259.99L346.42 259.69L348.24 259.33L350.06 258.89L351.88 258.39L353.7 257.8" fill="none" stroke="#56709f" stroke-width="0.8"/>
</g>
<g font-size="12" fill="#111" stroke="#111" stroke-width="0.22" text-anchor="middle"><text x="324.6" y="317.4">PfLSA1</text><text x="325.2" y="332.3">serum</text></g>
<clipPath id="c10"><rect x="374.8" y="234.4" width="145.6" height="102.3"/></clipPath>
<rect x="374.8" y="234.4" width="145.6" height="102.3" fill="#fff" stroke="#d9dbde" stroke-width="1"/>
<path d="M372.8 334.2h2M372.8 309.7h2M372.8 285.2h2M372.8 260.7h2M372.8 236.2h2M377.3 336.7v2M404.34 336.7v2M431.38 336.7v2M458.42 336.7v2M485.46 336.7v2M512.5 336.7v2" stroke="#c8c8c8" stroke-width="0.6" fill="none"/>
<g font-size="4.5" fill="#7a7a7a"><text x="371.6" y="336.8" text-anchor="end">0</text><text x="371.6" y="312.3" text-anchor="end">20000</text><text x="371.6" y="287.8" text-anchor="end">40000</text><text x="371.6" y="263.3" text-anchor="end">60000</text><text x="371.6" y="238.8" text-anchor="end">80000</text><text x="377.3" y="344.8" text-anchor="middle">0</text><text x="404.34" y="344.8" text-anchor="middle">10000</text><text x="431.38" y="344.8" text-anchor="middle">20000</text><text x="458.42" y="344.8" text-anchor="middle">30000</text><text x="485.46" y="344.8" text-anchor="middle">40000</text><text x="512.5" y="344.8" text-anchor="middle">50000</text></g>
<g clip-path="url(#c10)">
<path d="M377.3 332.92L379.08 329.94L380.85 327.07L382.63 324.29L384.4 321.62L386.18 319.04L387.96 316.56L389.73 314.17L391.51 311.87L393.28 309.66L395.06 307.54L396.84 305.51L398.61 303.56L400.39 301.69L402.17 299.89L403.94 298.16L405.72 296.5L407.49 294.93L409.27 293.43L411.05 292L412.82 290.64L414.6 289.35L416.37 288.13L418.15 286.98L419.93 285.89L421.7 284.86L423.48 283.89L425.25 282.99L427.03 282.13L428.81 281.34L430.58 280.6L432.36 279.92L434.13 279.3L435.91 278.72L437.69 278.2L439.46 277.72L441.24 277.28L443.02 276.89L444.79 276.53L446.57 276.21L448.34 275.94L450.12 275.69L451.9 275.48L453.67 275.3L455.45 275.15L457.22 275.03L459 274.94L460.78 274.87L462.55 274.83L464.33 274.8L466.1 274.8L467.88 274.81L469.66 274.84L471.43 274.89L473.21 274.95L474.98 275.02L476.76 275.09L478.54 275.18L480.31 275.27L482.09 275.37L483.86 275.47L485.64 275.56L487.42 275.55L489.19 275.53L490.97 275.52L492.75 275.49L494.52 275.46L496.3 275.42L498.07 275.37L499.85 275.3L501.63 275.22L503.4 275.05L505.18 274.85L506.95 274.63L508.73 274.4L510.51 274.13L512.28 273.85L514.06 273.54L515.83 273.2L517.61 272.83L517.61 282.63L515.83 282.59L514.06 282.52L512.28 282.42L510.51 282.3L508.73 282.15L506.95 281.97L505.18 281.78L503.4 281.57L501.63 281.34L499.85 281.18L498.07 281L496.3 280.81L494.52 280.61L492.75 280.4L490.97 280.19L489.19 279.96L487.42 279.74L485.64 279.51L483.86 279.38L482.09 279.26L480.31 279.15L478.54 279.04L476.76 278.94L474.98 278.84L473.21 278.76L471.43 278.68L469.66 278.62L467.88 278.57L466.1 278.54L464.33 278.53L462.55 278.54L460.78 278.57L459 278.62L457.22 278.7L455.45 278.8L453.67 278.93L451.9 279.1L450.12 279.29L448.34 279.52L446.57 279.78L444.79 280.08L443.02 280.42L441.24 280.8L439.46 281.22L437.69 281.68L435.91 282.19L434.13 282.75L432.36 283.36L430.58 284.01L428.81 284.7L427.03 285.45L425.25 286.25L423.48 287.11L421.7 288.03L419.93 289.01L418.15 290.05L416.37 291.16L414.6 292.33L412.82 293.57L411.05 294.88L409.27 296.26L407.49 297.71L405.72 299.24L403.94 300.84L402.17 302.52L400.39 304.29L398.61 306.16L396.84 308.11L395.06 310.14L393.28 312.26L391.51 314.47L389.73 316.77L387.96 319.16L386.18 321.64L384.4 324.22L382.63 326.89L380.85 329.67L379.08 332.54L377.3 335.52Z" fill="#dce6f3" stroke="none"/>
<line x1="377.3" y1="334.2" x2="520.4" y2="269.37" stroke="#747474" stroke-width="0.85" stroke-linecap="round" stroke-dasharray="0.25 1.75"/>
<g fill="rgba(25,55,150,0.3)" stroke="rgba(25,55,150,0.36)" stroke-width="0.5"><circle cx="398.9" cy="271.4" r="1.15"/><circle cx="406.5" cy="275.8" r="1.15"/><circle cx="397.5" cy="291.1" r="1.15"/><circle cx="393.4" cy="298" r="1.15"/><circle cx="394.8" cy="298.4" r="1.15"/><circle cx="399.2" cy="300.7" r="1.15"/><circle cx="404.2" cy="298.4" r="1.15"/><circle cx="414.2" cy="294.9" r="1.15"/><circle cx="420.8" cy="290.5" r="1.15"/><circle cx="423.6" cy="310.9" r="1.15"/><circle cx="385.1" cy="314" r="1.15"/><circle cx="387.2" cy="313.2" r="1.15"/><circle cx="384.4" cy="319.9" r="1.15"/><circle cx="389.2" cy="322.4" r="1.15"/><circle cx="378.8" cy="324.3" r="1.15"/><circle cx="382.6" cy="325.1" r="1.15"/><circle cx="385.8" cy="328.9" r="1.15"/><circle cx="392.7" cy="329.6" r="1.15"/><circle cx="382.3" cy="328.2" r="1.15"/><circle cx="444.3" cy="268.4" r="1.15"/><circle cx="466.5" cy="275.3" r="1.15"/><circle cx="517.6" cy="267.6" r="1.15"/><circle cx="424.4" cy="284.1" r="1.15"/><circle cx="480.2" cy="289.3" r="1.15"/><circle cx="510.3" cy="290.3" r="1.15"/><circle cx="430.6" cy="299.6" r="1.15"/><circle cx="415.5" cy="240.4" r="1.15"/><circle cx="429.1" cy="308.4" r="1.15"/><circle cx="434" cy="305.9" r="1.15"/><circle cx="379.01" cy="333.13" r="1.15"/><circle cx="379.02" cy="331.51" r="1.15"/><circle cx="379.69" cy="333.49" r="1.15"/><circle cx="378.28" cy="332.24" r="1.15"/><circle cx="380.49" cy="332.31" r="1.15"/><circle cx="377.56" cy="332.2" r="1.15"/><circle cx="378.11" cy="332.24" r="1.15"/><circle cx="378.8" cy="331" r="1.15"/><circle cx="377.3" cy="333.21" r="1.15"/><circle cx="382.65" cy="332.13" r="1.15"/><circle cx="383.85" cy="331.02" r="1.15"/><circle cx="376.45" cy="334.32" r="1.15"/><circle cx="376" cy="333.47" r="1.15"/><circle cx="379.56" cy="332.77" r="1.15"/><circle cx="377.68" cy="334.28" r="1.15"/><circle cx="376.66" cy="333.47" r="1.15"/><circle cx="377.73" cy="333.44" r="1.15"/><circle cx="379.48" cy="332.95" r="1.15"/><circle cx="378.86" cy="334.18" r="1.15"/><circle cx="378.45" cy="333.63" r="1.15"/><circle cx="376.4" cy="333.74" r="1.15"/><circle cx="379.07" cy="333.59" r="1.15"/><circle cx="380.56" cy="332.05" r="1.15"/><circle cx="380.79" cy="334.39" r="1.15"/><circle cx="378.44" cy="332.77" r="1.15"/><circle cx="381.33" cy="331.78" r="1.15"/><circle cx="377.5" cy="333.4" r="1.15"/><circle cx="379.77" cy="331.06" r="1.15"/><circle cx="379.32" cy="333.04" r="1.15"/><circle cx="380.8" cy="332.79" r="1.15"/><circle cx="376" cy="335.2" r="1.15"/><circle cx="379.08" cy="334.3" r="1.15"/><circle cx="377.64" cy="332.42" r="1.15"/><circle cx="377.61" cy="332.31" r="1.15"/><circle cx="377.82" cy="333.09" r="1.15"/><circle cx="378.61" cy="331.83" r="1.15"/><circle cx="383.96" cy="329.87" r="1.15"/><circle cx="377.46" cy="335.2" r="1.15"/><circle cx="377.56" cy="332.44" r="1.15"/><circle cx="381.4" cy="331.29" r="1.15"/><circle cx="380.54" cy="330.29" r="1.15"/><circle cx="377.32" cy="331.66" r="1.15"/><circle cx="379.69" cy="330.97" r="1.15"/><circle cx="380.6" cy="329.47" r="1.15"/><circle cx="379.21" cy="333.26" r="1.15"/></g>
<path d="M377.3 334.22L379.08 331.24L380.85 328.37L382.63 325.59L384.4 322.92L386.18 320.34L387.96 317.86L389.73 315.47L391.51 313.17L393.28 310.96L395.06 308.84L396.84 306.81L398.61 304.86L400.39 302.99L402.17 301.2L403.94 299.5L405.72 297.87L407.49 296.32L409.27 294.84L411.05 293.44L412.82 292.1L414.6 290.84L416.37 289.64L418.15 288.51L419.93 287.45L421.7 286.44L423.48 285.5L425.25 284.62L427.03 283.79L428.81 283.02L430.58 282.3L432.36 281.64L434.13 281.02L435.91 280.46L437.69 279.94L439.46 279.47L441.24 279.04L443.02 278.65L444.79 278.31L446.57 278L448.34 277.73L450.12 277.49L451.9 277.29L453.67 277.12L455.45 276.98L457.22 276.87L459 276.78L460.78 276.72L462.55 276.68L464.33 276.67L466.1 276.67L467.88 276.69L469.66 276.73L471.43 276.78L473.21 276.85L474.98 276.93L476.76 277.02L478.54 277.11L480.31 277.21L482.09 277.32L483.86 277.42L485.64 277.53L487.42 277.64L489.19 277.75L490.97 277.85L492.75 277.95L494.52 278.04L496.3 278.12L498.07 278.18L499.85 278.24L501.63 278.28L503.4 278.31L505.18 278.31L506.95 278.3L508.73 278.27L510.51 278.21L512.28 278.13L514.06 278.03L515.83 277.89L517.61 277.73" fill="none" stroke="#56709f" stroke-width="0.8"/>
</g>
<g font-size="12" fill="#111" stroke="#111" stroke-width="0.22" text-anchor="middle"><text x="472.2" y="317.6">PfGLURP-R0</text><text x="472" y="331.3">serum</text></g>
<clipPath id="c11"><rect x="540.5" y="235.7" width="142.1" height="101"/></clipPath>
<rect x="540.5" y="235.7" width="142.1" height="101" fill="#fff" stroke="#d9dbde" stroke-width="1"/>
<path d="M538.5 333.7h2M538.5 306.4h2M538.5 279.1h2M538.5 251.8h2M542.3 336.7v2M572.2 336.7v2M602.1 336.7v2M632 336.7v2M661.9 336.7v2" stroke="#c8c8c8" stroke-width="0.6" fill="none"/>
<g font-size="4.5" fill="#7a7a7a"><text x="537.3" y="336.3" text-anchor="end">0</text><text x="537.3" y="309" text-anchor="end">20000</text><text x="537.3" y="281.7" text-anchor="end">40000</text><text x="537.3" y="254.4" text-anchor="end">60000</text><text x="542.3" y="344.8" text-anchor="middle">0</text><text x="572.2" y="344.8" text-anchor="middle">10000</text><text x="602.1" y="344.8" text-anchor="middle">20000</text><text x="632" y="344.8" text-anchor="middle">30000</text><text x="661.9" y="344.8" text-anchor="middle">40000</text></g>
<g clip-path="url(#c11)">
<path d="M542.3 332.38L544.05 326.02L545.8 320.13L547.54 314.6L549.29 309.46L551.04 304.69L552.79 300.23L554.54 296.05L556.29 292.09L558.03 288.33L559.78 284.73L561.53 281.26L563.28 277.92L565.03 274.72L566.77 271.65L568.52 268.71L570.27 265.9L572.02 263.22L573.77 260.72L575.52 258.36L577.26 256.13L579.01 254.04L580.76 252.08L582.51 250.25L584.26 248.56L586.01 247L587.75 245.58L589.5 244.29L591.25 243.13L593 242.1L594.75 241.19L596.49 240.4L598.24 239.73L599.99 239.16L601.74 238.7L603.49 238.33L605.24 238.05L606.98 237.86L608.73 237.77L610.48 237.75L612.23 237.82L613.98 237.96L615.72 238.17L617.47 238.45L619.22 238.79L620.97 239.19L622.72 239.65L624.47 240.15L626.21 240.7L627.96 241.29L629.71 241.92L631.46 242.58L633.21 243.24L634.95 243.91L636.7 244.59L638.45 245.3L640.2 246.01L641.95 246.73L643.7 247.46L645.44 248.18L647.19 248.9L648.94 249.6L650.69 250.27L652.44 250.89L654.19 251.49L655.93 252.05L657.68 252.59L659.43 253.09L661.18 253.55L662.93 253.97L664.67 254.34L666.42 254.65L668.17 254.91L669.92 255.1L671.67 255.24L673.42 255.3L675.16 255.28L676.91 255.19L678.66 255.01L680.41 254.75L680.41 270.04L678.66 270.01L676.91 269.88L675.16 269.68L673.42 269.39L671.67 269.04L669.92 268.61L668.17 268.11L666.42 267.56L664.67 266.95L662.93 266.28L661.18 265.57L659.43 264.81L657.68 264.01L655.93 263.18L654.19 262.31L652.44 261.42L650.69 260.5L648.94 259.6L647.19 258.71L645.44 257.8L643.7 256.89L641.95 255.98L640.2 255.08L638.45 254.18L636.7 253.29L634.95 252.41L633.21 251.56L631.46 250.74L629.71 249.99L627.96 249.26L626.21 248.58L624.47 247.93L622.72 247.33L620.97 246.78L619.22 246.28L617.47 245.85L615.72 245.47L613.98 245.16L612.23 244.93L610.48 244.76L608.73 244.68L606.98 244.68L605.24 244.77L603.49 244.96L601.74 245.24L599.99 245.64L598.24 246.14L596.49 246.75L594.75 247.48L593 248.32L591.25 249.29L589.5 250.38L587.75 251.6L586.01 252.96L584.26 254.46L582.51 256.09L580.76 257.85L579.01 259.75L577.26 261.78L575.52 263.94L573.77 266.24L572.02 268.67L570.27 271.18L568.52 273.83L566.77 276.61L565.03 279.52L563.28 282.57L561.53 285.75L559.78 289.06L558.03 292.49L556.29 296.06L554.54 299.8L552.79 303.76L551.04 307.99L549.29 312.54L547.54 317.45L545.8 322.76L544.05 328.62L542.3 334.98Z" fill="#dce6f3" stroke="none"/>
<line x1="542.3" y1="333.7" x2="682.6" y2="269.65" stroke="#747474" stroke-width="0.85" stroke-linecap="round" stroke-dasharray="0.25 1.75"/>
<g fill="rgba(25,55,150,0.3)" stroke="rgba(25,55,150,0.36)" stroke-width="0.5"><circle cx="551.4" cy="268.3" r="1.15"/><circle cx="559" cy="276.7" r="1.15"/><circle cx="585.2" cy="269.8" r="1.15"/><circle cx="587.3" cy="269.8" r="1.15"/><circle cx="582.1" cy="284.1" r="1.15"/><circle cx="549.8" cy="288.3" r="1.15"/><circle cx="558.7" cy="289.4" r="1.15"/><circle cx="561.9" cy="285.1" r="1.15"/><circle cx="565.4" cy="295.7" r="1.15"/><circle cx="547.1" cy="298.9" r="1.15"/><circle cx="550.8" cy="299.7" r="1.15"/><circle cx="545.6" cy="301.6" r="1.15"/><circle cx="546.3" cy="305.2" r="1.15"/><circle cx="545.6" cy="307.6" r="1.15"/><circle cx="547.1" cy="309.2" r="1.15"/><circle cx="544.4" cy="310.5" r="1.15"/><circle cx="545.6" cy="311.6" r="1.15"/><circle cx="544" cy="314" r="1.15"/><circle cx="546.7" cy="314" r="1.15"/><circle cx="549.8" cy="318.4" r="1.15"/><circle cx="555.9" cy="318.4" r="1.15"/><circle cx="545.6" cy="321.9" r="1.15"/><circle cx="544.8" cy="324.3" r="1.15"/><circle cx="547.1" cy="325.1" r="1.15"/><circle cx="595.8" cy="254.6" r="1.15"/><circle cx="586.8" cy="258.9" r="1.15"/><circle cx="608.5" cy="267.6" r="1.15"/><circle cx="604.4" cy="277" r="1.15"/><circle cx="612.5" cy="279" r="1.15"/><circle cx="680.4" cy="262.5" r="1.15"/><circle cx="543.75" cy="332.41" r="1.15"/><circle cx="542.53" cy="334.5" r="1.15"/><circle cx="544.16" cy="331.08" r="1.15"/><circle cx="541.6" cy="332.79" r="1.15"/><circle cx="545.89" cy="329.15" r="1.15"/><circle cx="543.35" cy="331.35" r="1.15"/><circle cx="545.33" cy="328.9" r="1.15"/><circle cx="541.87" cy="331.84" r="1.15"/><circle cx="542.46" cy="328.61" r="1.15"/><circle cx="547.58" cy="327.08" r="1.15"/><circle cx="544.85" cy="327.07" r="1.15"/><circle cx="543.36" cy="331.25" r="1.15"/><circle cx="547.26" cy="325.81" r="1.15"/><circle cx="542.82" cy="328.28" r="1.15"/><circle cx="542.02" cy="329.55" r="1.15"/><circle cx="543.54" cy="329.5" r="1.15"/><circle cx="543.49" cy="330.89" r="1.15"/><circle cx="544.6" cy="327.84" r="1.15"/><circle cx="545" cy="327.99" r="1.15"/><circle cx="545.38" cy="328.55" r="1.15"/><circle cx="544.81" cy="328.87" r="1.15"/><circle cx="543.81" cy="326.68" r="1.15"/><circle cx="544.08" cy="328.07" r="1.15"/><circle cx="545.47" cy="326.56" r="1.15"/><circle cx="543.13" cy="328.87" r="1.15"/><circle cx="544.1" cy="332.11" r="1.15"/><circle cx="542.36" cy="334.15" r="1.15"/><circle cx="546.51" cy="328.47" r="1.15"/><circle cx="546.38" cy="328.82" r="1.15"/><circle cx="542.87" cy="331.6" r="1.15"/><circle cx="545.61" cy="331.63" r="1.15"/><circle cx="541.6" cy="333.4" r="1.15"/><circle cx="543.64" cy="328.51" r="1.15"/><circle cx="542.83" cy="331.2" r="1.15"/><circle cx="542.81" cy="330.7" r="1.15"/><circle cx="545.13" cy="327.82" r="1.15"/><circle cx="546.53" cy="330.06" r="1.15"/><circle cx="544.48" cy="327.35" r="1.15"/><circle cx="542.45" cy="330.08" r="1.15"/><circle cx="544.61" cy="324.99" r="1.15"/><circle cx="542.29" cy="327.22" r="1.15"/><circle cx="543.52" cy="329.89" r="1.15"/><circle cx="544.02" cy="331.8" r="1.15"/><circle cx="543.67" cy="332.94" r="1.15"/><circle cx="545.45" cy="329.83" r="1.15"/><circle cx="544.53" cy="327.99" r="1.15"/><circle cx="543.97" cy="333.04" r="1.15"/><circle cx="541.6" cy="332.48" r="1.15"/><circle cx="544.88" cy="332.58" r="1.15"/><circle cx="542.4" cy="331.51" r="1.15"/></g>
<path d="M542.3 333.68L544.05 327.32L545.8 321.45L547.54 316.02L549.29 311L551.04 306.34L552.79 302L554.54 297.92L556.29 294.07L558.03 290.41L559.78 286.89L561.53 283.5L563.28 280.25L565.03 277.12L566.77 274.13L568.52 271.27L570.27 268.54L572.02 265.94L573.77 263.48L575.52 261.15L577.26 258.95L579.01 256.89L580.76 254.96L582.51 253.17L584.26 251.51L586.01 249.98L587.75 248.59L589.5 247.33L591.25 246.21L593 245.21L594.75 244.33L596.49 243.58L598.24 242.93L599.99 242.4L601.74 241.97L603.49 241.64L605.24 241.41L606.98 241.27L608.73 241.22L610.48 241.26L612.23 241.37L613.98 241.56L615.72 241.82L617.47 242.15L619.22 242.54L620.97 242.99L622.72 243.49L624.47 244.04L626.21 244.64L627.96 245.28L629.71 245.95L631.46 246.66L633.21 247.4L634.95 248.16L636.7 248.94L638.45 249.74L640.2 250.54L641.95 251.36L643.7 252.18L645.44 252.99L647.19 253.8L648.94 254.6L650.69 255.39L652.44 256.15L654.19 256.9L655.93 257.62L657.68 258.3L659.43 258.95L661.18 259.56L662.93 260.12L664.67 260.64L666.42 261.1L668.17 261.51L669.92 261.86L671.67 262.14L673.42 262.34L675.16 262.48L676.91 262.54L678.66 262.51L680.41 262.4" fill="none" stroke="#56709f" stroke-width="0.8"/>
</g>
<g font-size="12" fill="#111" stroke="#111" stroke-width="0.22" text-anchor="middle"><text x="654.9" y="317.7">PfHRP2</text><text x="654.5" y="331.8">serum</text></g>
<clipPath id="c12"><rect x="38.5" y="351.5" width="149.9" height="105.7"/></clipPath>
<rect x="38.5" y="351.5" width="149.9" height="105.7" fill="#fff" stroke="#d9dbde" stroke-width="1"/>
<path d="M36.5 454.9h2M36.5 430.1h2M36.5 405.3h2M36.5 380.5h2M36.5 355.7h2M40.6 457.2v2M72.85 457.2v2M105.1 457.2v2M137.35 457.2v2M169.6 457.2v2" stroke="#c8c8c8" stroke-width="0.6" fill="none"/>
<g font-size="4.5" fill="#7a7a7a"><text x="35.3" y="457.5" text-anchor="end">0</text><text x="35.3" y="432.7" text-anchor="end">20000</text><text x="35.3" y="407.9" text-anchor="end">40000</text><text x="35.3" y="383.1" text-anchor="end">60000</text><text x="35.3" y="358.3" text-anchor="end">80000</text><text x="40.6" y="465.3" text-anchor="middle">0</text><text x="72.85" y="465.3" text-anchor="middle">10000</text><text x="105.1" y="465.3" text-anchor="middle">20000</text><text x="137.35" y="465.3" text-anchor="middle">30000</text><text x="169.6" y="465.3" text-anchor="middle">40000</text></g>
<g clip-path="url(#c12)">
<path d="M40.6 453.62L42.44 449.13L44.29 444.58L46.13 439.98L47.97 435.38L49.82 430.79L51.66 426.26L53.5 421.77L55.35 417.38L57.19 413.13L59.03 409.05L60.87 405.12L62.72 401.37L64.56 397.8L66.4 394.39L68.25 391.17L70.09 388.12L71.93 385.25L73.78 382.52L75.62 379.95L77.46 377.54L79.31 375.27L81.15 373.15L82.99 371.17L84.84 369.33L86.68 367.62L88.52 366.03L90.37 364.56L92.21 363.21L94.05 361.97L95.89 360.84L97.74 359.81L99.58 358.88L101.42 358.05L103.27 357.31L105.11 356.66L106.95 356.14L108.8 355.7L110.64 355.35L112.48 355.07L114.33 354.87L116.17 354.75L118.01 354.7L119.86 354.72L121.7 354.8L123.54 354.95L125.38 355.16L127.23 355.43L129.07 355.75L130.91 356.13L132.76 356.55L134.6 357.01L136.44 357.47L138.29 357.97L140.13 358.51L141.97 359.08L143.82 359.69L145.66 360.33L147.5 361L149.35 361.7L151.19 362.41L153.03 363.15L154.88 363.9L156.72 364.67L158.56 365.3L160.4 365.94L162.25 366.58L164.09 367.23L165.93 367.88L167.78 368.53L169.62 369.18L171.46 369.66L173.31 370.13L175.15 370.59L176.99 371.03L178.84 371.45L180.68 371.86L182.52 372.24L184.37 372.59L186.21 372.92L186.21 391.77L184.37 390.67L182.52 389.55L180.68 388.4L178.84 387.22L176.99 386.02L175.15 384.81L173.31 383.58L171.46 382.34L169.62 381.09L167.78 379.98L165.93 378.87L164.09 377.76L162.25 376.65L160.4 375.54L158.56 374.44L156.72 373.35L154.88 372.42L153.03 371.51L151.19 370.61L149.35 369.73L147.5 368.87L145.66 368.04L143.82 367.24L141.97 366.47L140.13 365.73L138.29 365.03L136.44 364.37L134.6 363.74L132.76 363.21L130.91 362.74L129.07 362.32L127.23 361.95L125.38 361.63L123.54 361.38L121.7 361.18L119.86 361.05L118.01 360.98L116.17 360.99L114.33 361.06L112.48 361.21L110.64 361.44L108.8 361.75L106.95 362.13L105.11 362.61L103.27 363.13L101.42 363.75L99.58 364.45L97.74 365.25L95.89 366.16L94.05 367.16L92.21 368.27L90.37 369.49L88.52 370.83L86.68 372.29L84.84 373.88L82.99 375.6L81.15 377.45L79.31 379.44L77.46 381.58L75.62 383.87L73.78 386.31L71.93 388.92L70.09 391.7L68.25 394.65L66.4 397.77L64.56 401.07L62.72 404.55L60.87 408.2L59.03 412.02L57.19 416.01L55.35 420.16L53.5 424.45L51.66 428.86L49.82 433.39L47.97 437.98L46.13 442.58L44.29 447.18L42.44 451.73L40.6 456.22Z" fill="#dce6f3" stroke="none"/>
<line x1="40.6" y1="454.9" x2="188.4" y2="398.07" stroke="#747474" stroke-width="0.85" stroke-linecap="round" stroke-dasharray="0.25 1.75"/>
<g fill="rgba(25,55,150,0.3)" stroke="rgba(25,55,150,0.36)" stroke-width="0.5"><circle cx="87.7" cy="354.1" r="1.15"/><circle cx="58.2" cy="369.1" r="1.15"/><circle cx="61.9" cy="374.9" r="1.15"/><circle cx="61.4" cy="378.5" r="1.15"/><circle cx="59.6" cy="381.3" r="1.15"/><circle cx="55.5" cy="382.1" r="1.15"/><circle cx="51" cy="384.1" r="1.15"/><circle cx="62.4" cy="385.4" r="1.15"/><circle cx="54.3" cy="386.8" r="1.15"/><circle cx="52.8" cy="389.7" r="1.15"/><circle cx="53.3" cy="391.2" r="1.15"/><circle cx="45.6" cy="388.7" r="1.15"/><circle cx="48.2" cy="390.9" r="1.15"/><circle cx="56.8" cy="390.7" r="1.15"/><circle cx="63.3" cy="391.5" r="1.15"/><circle cx="68" cy="389.2" r="1.15"/><circle cx="70.8" cy="387.7" r="1.15"/><circle cx="76.7" cy="385.1" r="1.15"/><circle cx="76.9" cy="387.7" r="1.15"/><circle cx="81.3" cy="387.5" r="1.15"/><circle cx="85.9" cy="378.5" r="1.15"/><circle cx="86.7" cy="381.6" r="1.15"/><circle cx="85" cy="381.8" r="1.15"/><circle cx="86.9" cy="389.2" r="1.15"/><circle cx="85.4" cy="391.7" r="1.15"/><circle cx="82.8" cy="394.6" r="1.15"/><circle cx="76.9" cy="393.8" r="1.15"/><circle cx="50.2" cy="395.8" r="1.15"/><circle cx="46.4" cy="398" r="1.15"/><circle cx="56.8" cy="395.8" r="1.15"/><circle cx="58.9" cy="398" r="1.15"/><circle cx="57.9" cy="399.4" r="1.15"/><circle cx="71.6" cy="395.8" r="1.15"/><circle cx="70.4" cy="397.6" r="1.15"/><circle cx="72.6" cy="398.9" r="1.15"/><circle cx="66.5" cy="394.8" r="1.15"/><circle cx="50.2" cy="399.9" r="1.15"/><circle cx="66.7" cy="401.9" r="1.15"/><circle cx="76.9" cy="413.3" r="1.15"/><circle cx="77.7" cy="415.7" r="1.15"/><circle cx="65.5" cy="420.2" r="1.15"/><circle cx="60.2" cy="417.8" r="1.15"/><circle cx="60" cy="437.4" r="1.15"/><circle cx="68" cy="438.6" r="1.15"/><circle cx="46.3" cy="447.9" r="1.15"/><circle cx="45.9" cy="445.4" r="1.15"/><circle cx="59.4" cy="413.9" r="1.15"/><circle cx="56.3" cy="416.3" r="1.15"/><circle cx="57.8" cy="402.3" r="1.15"/><circle cx="96" cy="367.8" r="1.15"/><circle cx="93.9" cy="370.9" r="1.15"/><circle cx="104.5" cy="367.8" r="1.15"/><circle cx="108.6" cy="374.2" r="1.15"/><circle cx="118.1" cy="371.9" r="1.15"/><circle cx="123.9" cy="370.1" r="1.15"/><circle cx="133.9" cy="371.9" r="1.15"/><circle cx="133.9" cy="375.2" r="1.15"/><circle cx="127.2" cy="376" r="1.15"/><circle cx="88" cy="377.7" r="1.15"/><circle cx="92.3" cy="379.3" r="1.15"/><circle cx="99" cy="377" r="1.15"/><circle cx="100.5" cy="378.3" r="1.15"/><circle cx="106.6" cy="381" r="1.15"/><circle cx="111.5" cy="379.7" r="1.15"/><circle cx="112.5" cy="383.4" r="1.15"/><circle cx="115.7" cy="386.6" r="1.15"/><circle cx="134.1" cy="382.8" r="1.15"/><circle cx="92.1" cy="384.6" r="1.15"/><circle cx="89.9" cy="386.4" r="1.15"/><circle cx="92.9" cy="391.7" r="1.15"/><circle cx="89.6" cy="394.6" r="1.15"/><circle cx="89.6" cy="397.6" r="1.15"/><circle cx="119.6" cy="393.3" r="1.15"/><circle cx="141.1" cy="366.4" r="1.15"/><circle cx="141.1" cy="375.2" r="1.15"/><circle cx="142.6" cy="377" r="1.15"/><circle cx="150.5" cy="383.5" r="1.15"/><circle cx="156.2" cy="367.5" r="1.15"/><circle cx="157.9" cy="375.5" r="1.15"/><circle cx="159.3" cy="383.5" r="1.15"/><circle cx="160.5" cy="392" r="1.15"/><circle cx="165.7" cy="369" r="1.15"/><circle cx="177.1" cy="365.6" r="1.15"/><circle cx="171.4" cy="382.4" r="1.15"/><circle cx="179.6" cy="378.1" r="1.15"/><circle cx="179" cy="379.7" r="1.15"/><circle cx="186.2" cy="382.9" r="1.15"/><circle cx="92.4" cy="418.5" r="1.15"/><circle cx="56.17" cy="404.43" r="1.15"/><circle cx="51.75" cy="418.7" r="1.15"/><circle cx="53.71" cy="409.25" r="1.15"/><circle cx="41.49" cy="426.23" r="1.15"/><circle cx="42.91" cy="407.12" r="1.15"/><circle cx="42.08" cy="444.66" r="1.15"/><circle cx="42.32" cy="421.97" r="1.15"/><circle cx="44.08" cy="433.55" r="1.15"/><circle cx="42.09" cy="446.48" r="1.15"/><circle cx="44.11" cy="414.7" r="1.15"/><circle cx="48.49" cy="401.1" r="1.15"/><circle cx="56.33" cy="401.72" r="1.15"/><circle cx="44.17" cy="446.91" r="1.15"/><circle cx="44.38" cy="436.69" r="1.15"/><circle cx="51.2" cy="402.92" r="1.15"/><circle cx="42.57" cy="416.93" r="1.15"/><circle cx="51.15" cy="418.7" r="1.15"/><circle cx="45.18" cy="440.76" r="1.15"/><circle cx="47.01" cy="406.42" r="1.15"/><circle cx="48.35" cy="419.98" r="1.15"/><circle cx="45.72" cy="430.65" r="1.15"/><circle cx="44.67" cy="428.82" r="1.15"/><circle cx="43.93" cy="443.01" r="1.15"/><circle cx="41.66" cy="431.97" r="1.15"/><circle cx="41.69" cy="442.33" r="1.15"/><circle cx="45.33" cy="443.98" r="1.15"/><circle cx="41.93" cy="454.42" r="1.15"/><circle cx="44.85" cy="434.94" r="1.15"/><circle cx="40.8" cy="452.86" r="1.15"/><circle cx="48.44" cy="402.71" r="1.15"/><circle cx="47.61" cy="402.89" r="1.15"/><circle cx="44.82" cy="446.29" r="1.15"/><circle cx="46.43" cy="437.88" r="1.15"/><circle cx="41.36" cy="441.79" r="1.15"/><circle cx="50.81" cy="427.71" r="1.15"/><circle cx="46.47" cy="443.38" r="1.15"/><circle cx="54.48" cy="419.39" r="1.15"/><circle cx="42.97" cy="446.02" r="1.15"/><circle cx="43.24" cy="448.76" r="1.15"/><circle cx="46.68" cy="435.19" r="1.15"/><circle cx="41.64" cy="424.17" r="1.15"/><circle cx="42.74" cy="422.61" r="1.15"/><circle cx="47.29" cy="443.04" r="1.15"/><circle cx="55.69" cy="408.49" r="1.15"/><circle cx="43.92" cy="451.65" r="1.15"/><circle cx="44.29" cy="442.34" r="1.15"/><circle cx="42.03" cy="416.87" r="1.15"/><circle cx="47.83" cy="419.1" r="1.15"/><circle cx="42.52" cy="411.44" r="1.15"/><circle cx="40.46" cy="448.94" r="1.15"/><circle cx="47.32" cy="437.67" r="1.15"/><circle cx="52.92" cy="421.08" r="1.15"/><circle cx="49.02" cy="427.99" r="1.15"/><circle cx="47.5" cy="422.11" r="1.15"/><circle cx="52.07" cy="398.22" r="1.15"/><circle cx="52.35" cy="413.57" r="1.15"/><circle cx="42.55" cy="442.54" r="1.15"/><circle cx="40.4" cy="453.5" r="1.15"/><circle cx="51.89" cy="419.06" r="1.15"/><circle cx="46.12" cy="419.44" r="1.15"/><circle cx="45" cy="433.25" r="1.15"/><circle cx="46.81" cy="429.7" r="1.15"/><circle cx="41.17" cy="452.61" r="1.15"/><circle cx="50.32" cy="405.19" r="1.15"/><circle cx="51.19" cy="403.64" r="1.15"/><circle cx="43.93" cy="452.27" r="1.15"/><circle cx="57.95" cy="408.38" r="1.15"/><circle cx="42.68" cy="430.12" r="1.15"/><circle cx="41.65" cy="443.78" r="1.15"/><circle cx="44.86" cy="449.77" r="1.15"/><circle cx="42.39" cy="452.73" r="1.15"/><circle cx="51.34" cy="422.29" r="1.15"/><circle cx="43.69" cy="415.25" r="1.15"/><circle cx="48.56" cy="428.89" r="1.15"/><circle cx="47.74" cy="429.39" r="1.15"/><circle cx="41.92" cy="454.52" r="1.15"/><circle cx="47.91" cy="403.27" r="1.15"/><circle cx="43.53" cy="436.54" r="1.15"/><circle cx="42.16" cy="454.09" r="1.15"/><circle cx="43.05" cy="415.92" r="1.15"/><circle cx="41.57" cy="454.63" r="1.15"/><circle cx="43.76" cy="443.47" r="1.15"/><circle cx="58.04" cy="406.45" r="1.15"/><circle cx="44.06" cy="428.2" r="1.15"/><circle cx="41.09" cy="430.59" r="1.15"/><circle cx="45.62" cy="420.53" r="1.15"/><circle cx="41.96" cy="444.98" r="1.15"/><circle cx="47.91" cy="426.32" r="1.15"/><circle cx="43.82" cy="452.92" r="1.15"/><circle cx="53.54" cy="422.58" r="1.15"/><circle cx="48.61" cy="435.81" r="1.15"/><circle cx="49.42" cy="423.15" r="1.15"/><circle cx="49.18" cy="408.54" r="1.15"/><circle cx="44.83" cy="446.44" r="1.15"/><circle cx="43.87" cy="437.19" r="1.15"/><circle cx="46.52" cy="438.48" r="1.15"/><circle cx="40.59" cy="444.94" r="1.15"/><circle cx="41.44" cy="434.37" r="1.15"/><circle cx="44.52" cy="442.37" r="1.15"/><circle cx="46.11" cy="432.52" r="1.15"/><circle cx="42.66" cy="449.29" r="1.15"/><circle cx="42.25" cy="425.19" r="1.15"/><circle cx="41.23" cy="447.64" r="1.15"/><circle cx="42.8" cy="434.72" r="1.15"/><circle cx="45.51" cy="426.33" r="1.15"/><circle cx="42.7" cy="450.23" r="1.15"/><circle cx="47.21" cy="431.43" r="1.15"/><circle cx="42.01" cy="444.14" r="1.15"/><circle cx="50.98" cy="411.6" r="1.15"/><circle cx="49.74" cy="405.1" r="1.15"/><circle cx="50.34" cy="419.36" r="1.15"/><circle cx="48.88" cy="424.26" r="1.15"/><circle cx="55.58" cy="418.26" r="1.15"/><circle cx="48.06" cy="437.74" r="1.15"/><circle cx="50.52" cy="407.82" r="1.15"/></g>
<path d="M40.6 454.92L42.44 450.43L44.29 445.88L46.13 441.28L47.97 436.68L49.82 432.09L51.66 427.56L53.5 423.11L55.35 418.77L57.19 414.57L59.03 410.53L60.87 406.66L62.72 402.96L64.56 399.43L66.4 396.08L68.25 392.91L70.09 389.91L71.93 387.08L73.78 384.42L75.62 381.91L77.46 379.56L79.31 377.36L81.15 375.3L82.99 373.38L84.84 371.6L86.68 369.95L88.52 368.43L90.37 367.03L92.21 365.74L94.05 364.57L95.89 363.5L97.74 362.53L99.58 361.67L101.42 360.9L103.27 360.22L105.11 359.63L106.95 359.14L108.8 358.72L110.64 358.39L112.48 358.14L114.33 357.97L116.17 357.87L118.01 357.84L119.86 357.88L121.7 357.99L123.54 358.16L125.38 358.4L127.23 358.69L129.07 359.03L130.91 359.43L132.76 359.88L134.6 360.38L136.44 360.92L138.29 361.5L140.13 362.12L141.97 362.78L143.82 363.47L145.66 364.19L147.5 364.94L149.35 365.71L151.19 366.51L153.03 367.33L154.88 368.16L156.72 369.01L158.56 369.87L160.4 370.74L162.25 371.62L164.09 372.5L165.93 373.38L167.78 374.26L169.62 375.13L171.46 376L173.31 376.85L175.15 377.7L176.99 378.53L178.84 379.34L180.68 380.13L182.52 380.89L184.37 381.63L186.21 382.34" fill="none" stroke="#56709f" stroke-width="0.8"/>
</g>
<g font-size="12" fill="#111" stroke="#111" stroke-width="0.22" text-anchor="middle"><text x="156.7" y="436.9">PfAMA1</text><text x="157" y="451">DBS</text></g>
<clipPath id="c13"><rect x="209.5" y="351.4" width="144.8" height="105.3"/></clipPath>
<rect x="209.5" y="351.4" width="144.8" height="105.3" fill="#fff" stroke="#d9dbde" stroke-width="1"/>
<path d="M207.5 453.7h2M207.5 422.43h2M207.5 391.17h2M207.5 359.9h2M211.1 456.7v2M239.14 456.7v2M267.18 456.7v2M295.22 456.7v2M323.26 456.7v2M351.3 456.7v2" stroke="#c8c8c8" stroke-width="0.6" fill="none"/>
<g font-size="4.5" fill="#7a7a7a"><text x="206.3" y="456.3" text-anchor="end">0</text><text x="206.3" y="425.03" text-anchor="end">20000</text><text x="206.3" y="393.77" text-anchor="end">40000</text><text x="206.3" y="362.5" text-anchor="end">60000</text><text x="211.1" y="464.8" text-anchor="middle">0</text><text x="239.14" y="464.8" text-anchor="middle">5000</text><text x="267.18" y="464.8" text-anchor="middle">10000</text><text x="295.22" y="464.8" text-anchor="middle">15000</text><text x="323.26" y="464.8" text-anchor="middle">20000</text><text x="351.3" y="464.8" text-anchor="middle">25000</text></g>
<g clip-path="url(#c13)">
<path d="M211.1 452.42L212.82 448.73L214.55 445.06L216.27 441.42L218 437.82L219.72 434.27L221.44 430.77L223.17 427.33L224.89 423.95L226.62 420.64L228.34 417.41L230.06 414.25L231.79 411.17L233.51 408.17L235.24 405.26L236.96 402.44L238.69 399.71L240.41 397.06L242.13 394.51L243.86 392.04L245.58 389.66L247.31 387.37L249.03 385.15L250.75 383.02L252.48 380.97L254.2 379.01L255.93 377.14L257.65 375.36L259.37 373.67L261.1 372.06L262.82 370.55L264.55 369.13L266.27 367.8L267.99 366.57L269.72 365.42L271.44 364.36L273.17 363.39L274.89 362.51L276.61 361.72L278.34 361L280.06 360.37L281.79 359.82L283.51 359.34L285.23 358.94L286.96 358.61L288.68 358.35L290.41 358.16L292.13 358.04L293.86 357.98L295.58 357.99L297.3 358.06L299.03 358.18L300.75 358.37L302.48 358.6L304.2 358.88L305.92 359.22L307.65 359.61L309.37 360.04L311.1 360.52L312.82 361.04L314.54 361.6L316.27 362.2L317.99 362.84L319.72 363.51L321.44 364.21L323.16 364.95L324.89 365.72L326.61 366.51L328.34 367.32L330.06 368.12L331.78 368.93L333.51 369.75L335.23 370.58L336.96 371.44L338.68 372.3L340.41 373.18L342.13 374.06L343.85 374.96L345.58 375.85L347.3 376.75L347.3 383.63L345.58 382.56L343.85 381.48L342.13 380.42L340.41 379.36L338.68 378.3L336.96 377.26L335.23 376.23L333.51 375.22L331.78 374.22L330.06 373.25L328.34 372.31L326.61 371.43L324.89 370.58L323.16 369.76L321.44 368.97L319.72 368.21L317.99 367.48L316.27 366.78L314.54 366.12L312.82 365.5L311.1 364.93L309.37 364.39L307.65 363.9L305.92 363.46L304.2 363.06L302.48 362.72L300.75 362.43L299.03 362.2L297.3 362.02L295.58 361.91L293.86 361.85L292.13 361.86L290.41 361.94L288.68 362.08L286.96 362.29L285.23 362.57L283.51 362.92L281.79 363.35L280.06 363.86L278.34 364.44L276.61 365.1L274.89 365.85L273.17 366.69L271.44 367.61L269.72 368.62L267.99 369.72L266.27 370.91L264.55 372.19L262.82 373.56L261.1 375.02L259.37 376.57L257.65 378.22L255.93 379.95L254.2 381.77L252.48 383.68L250.75 385.68L249.03 387.77L247.31 389.97L245.58 392.26L243.86 394.64L242.13 397.11L240.41 399.66L238.69 402.31L236.96 405.04L235.24 407.86L233.51 410.77L231.79 413.77L230.06 416.85L228.34 420.01L226.62 423.24L224.89 426.55L223.17 429.93L221.44 433.37L219.72 436.87L218 440.42L216.27 444.02L214.55 447.66L212.82 451.33L211.1 455.02Z" fill="#dce6f3" stroke="none"/>
<line x1="211.1" y1="453.7" x2="354.3" y2="413.78" stroke="#747474" stroke-width="0.85" stroke-linecap="round" stroke-dasharray="0.25 1.75"/>
<g fill="rgba(25,55,150,0.3)" stroke="rgba(25,55,150,0.36)" stroke-width="0.5"><circle cx="222.8" cy="386.3" r="1.15"/><circle cx="234.7" cy="392.7" r="1.15"/><circle cx="228.5" cy="403.3" r="1.15"/><circle cx="217" cy="423.2" r="1.15"/><circle cx="219.3" cy="423.5" r="1.15"/><circle cx="244.1" cy="425" r="1.15"/><circle cx="222.8" cy="433.5" r="1.15"/><circle cx="214" cy="437.4" r="1.15"/><circle cx="216.1" cy="437.7" r="1.15"/><circle cx="217.5" cy="437.4" r="1.15"/><circle cx="214.3" cy="445.4" r="1.15"/><circle cx="214" cy="447.7" r="1.15"/><circle cx="217" cy="450.7" r="1.15"/><circle cx="226.7" cy="451.6" r="1.15"/><circle cx="279.5" cy="353.2" r="1.15"/><circle cx="312.2" cy="377" r="1.15"/><circle cx="326.8" cy="370.3" r="1.15"/><circle cx="347.7" cy="376.5" r="1.15"/><circle cx="212.73" cy="450.83" r="1.15"/><circle cx="213.68" cy="450.96" r="1.15"/><circle cx="211.88" cy="450.87" r="1.15"/><circle cx="213" cy="448.97" r="1.15"/><circle cx="214.02" cy="446.36" r="1.15"/><circle cx="212.62" cy="451.63" r="1.15"/><circle cx="212.28" cy="451.1" r="1.15"/><circle cx="214.93" cy="447.5" r="1.15"/><circle cx="212.54" cy="450.44" r="1.15"/><circle cx="213.22" cy="452.7" r="1.15"/><circle cx="214.56" cy="448.81" r="1.15"/><circle cx="213" cy="451.38" r="1.15"/><circle cx="213.04" cy="450.7" r="1.15"/><circle cx="213.41" cy="447.2" r="1.15"/><circle cx="214.54" cy="448.04" r="1.15"/><circle cx="213.48" cy="446.63" r="1.15"/><circle cx="214.41" cy="446.93" r="1.15"/><circle cx="213" cy="449.6" r="1.15"/><circle cx="213.37" cy="449.32" r="1.15"/><circle cx="212.15" cy="451.05" r="1.15"/><circle cx="210.63" cy="453.22" r="1.15"/><circle cx="210.98" cy="453.96" r="1.15"/><circle cx="210.6" cy="452.31" r="1.15"/><circle cx="212.22" cy="453.91" r="1.15"/><circle cx="212.33" cy="450.57" r="1.15"/><circle cx="211.38" cy="452.86" r="1.15"/><circle cx="214.36" cy="449.34" r="1.15"/><circle cx="212.73" cy="451.59" r="1.15"/><circle cx="211.77" cy="453.58" r="1.15"/><circle cx="212.34" cy="453.81" r="1.15"/><circle cx="212.08" cy="450.57" r="1.15"/><circle cx="211.9" cy="452.97" r="1.15"/><circle cx="213.39" cy="447.94" r="1.15"/><circle cx="211.74" cy="450.69" r="1.15"/><circle cx="212.21" cy="450.58" r="1.15"/><circle cx="213.11" cy="452.7" r="1.15"/><circle cx="214.94" cy="446.57" r="1.15"/><circle cx="211.73" cy="452.54" r="1.15"/><circle cx="212.28" cy="449.38" r="1.15"/><circle cx="213.73" cy="445.99" r="1.15"/></g>
<path d="M211.1 453.72L212.82 450.03L214.55 446.36L216.27 442.72L218 439.12L219.72 435.57L221.44 432.07L223.17 428.63L224.89 425.25L226.62 421.94L228.34 418.71L230.06 415.55L231.79 412.47L233.51 409.47L235.24 406.56L236.96 403.74L238.69 401.01L240.41 398.36L242.13 395.81L243.86 393.34L245.58 390.96L247.31 388.67L249.03 386.46L250.75 384.35L252.48 382.32L254.2 380.39L255.93 378.54L257.65 376.79L259.37 375.12L261.1 373.54L262.82 372.06L264.55 370.66L266.27 369.36L267.99 368.14L269.72 367.02L271.44 365.98L273.17 365.04L274.89 364.18L276.61 363.41L278.34 362.72L280.06 362.11L281.79 361.58L283.51 361.13L285.23 360.75L286.96 360.45L288.68 360.21L290.41 360.05L292.13 359.95L293.86 359.92L295.58 359.95L297.3 360.04L299.03 360.19L300.75 360.4L302.48 360.66L304.2 360.97L305.92 361.34L307.65 361.75L309.37 362.21L311.1 362.72L312.82 363.27L314.54 363.86L316.27 364.49L317.99 365.16L319.72 365.86L321.44 366.59L323.16 367.36L324.89 368.15L326.61 368.97L328.34 369.82L330.06 370.69L331.78 371.58L333.51 372.48L335.23 373.41L336.96 374.35L338.68 375.3L340.41 376.27L342.13 377.24L343.85 378.22L345.58 379.21L347.3 380.19" fill="none" stroke="#56709f" stroke-width="0.8"/>
</g>
<g font-size="12" fill="#111" stroke="#111" stroke-width="0.22" text-anchor="middle"><text x="324.8" y="436.4">PfLSA1</text><text x="325.1" y="450.3">DBS</text></g>
<clipPath id="c14"><rect x="375.3" y="352.1" width="144.1" height="105"/></clipPath>
<rect x="375.3" y="352.1" width="144.1" height="105" fill="#fff" stroke="#d9dbde" stroke-width="1"/>
<path d="M373.3 454.2h2M373.3 423.83h2M373.3 393.47h2M373.3 363.1h2M377.3 457.1v2M405.1 457.1v2M432.9 457.1v2M460.7 457.1v2M488.5 457.1v2M516.3 457.1v2" stroke="#c8c8c8" stroke-width="0.6" fill="none"/>
<g font-size="4.5" fill="#7a7a7a"><text x="372.1" y="456.8" text-anchor="end">0</text><text x="372.1" y="426.43" text-anchor="end">20000</text><text x="372.1" y="396.07" text-anchor="end">40000</text><text x="372.1" y="365.7" text-anchor="end">60000</text><text x="377.3" y="465.2" text-anchor="middle">0</text><text x="405.1" y="465.2" text-anchor="middle">10000</text><text x="432.9" y="465.2" text-anchor="middle">20000</text><text x="460.7" y="465.2" text-anchor="middle">30000</text><text x="488.5" y="465.2" text-anchor="middle">40000</text><text x="516.3" y="465.2" text-anchor="middle">50000</text></g>
<g clip-path="url(#c14)">
<path d="M377.3 452.9L379.05 449.7L380.8 446.51L382.55 443.36L384.3 440.25L386.05 437.17L387.8 434.13L389.55 431.13L391.31 428.18L393.06 425.29L394.81 422.44L396.56 419.65L398.31 416.93L400.06 414.26L401.81 411.66L403.56 409.14L405.31 406.68L407.06 404.3L408.81 402L410.56 399.78L412.31 397.65L414.06 395.6L415.82 393.63L417.57 391.74L419.32 389.91L421.07 388.15L422.82 386.48L424.57 384.88L426.32 383.35L428.07 381.9L429.82 380.51L431.57 379.2L433.32 377.96L435.07 376.8L436.82 375.7L438.57 374.67L440.33 373.7L442.08 372.79L443.83 371.95L445.58 371.16L447.33 370.43L449.08 369.76L450.83 369.15L452.58 368.58L454.33 368.08L456.08 367.62L457.83 367.21L459.58 366.85L461.33 366.54L463.08 366.27L464.83 366.04L466.59 365.86L468.34 365.72L470.09 365.61L471.84 365.55L473.59 365.52L475.34 365.5L477.09 365.49L478.84 365.52L480.59 365.57L482.34 365.65L484.09 365.76L485.84 365.89L487.59 366.05L489.34 366.22L491.1 366.42L492.85 366.63L494.6 366.85L496.35 367.02L498.1 367.21L499.85 367.42L501.6 367.63L503.35 367.86L505.1 368.09L506.85 368.32L508.6 368.57L510.35 368.81L512.1 369.05L513.85 369.3L515.61 369.54L515.61 377.44L513.85 376.95L512.1 376.46L510.35 375.96L508.6 375.47L506.85 374.99L505.1 374.5L503.35 374.02L501.6 373.55L499.85 373.09L498.1 372.64L496.35 372.2L494.6 371.78L492.85 371.42L491.1 371.09L489.34 370.79L487.59 370.5L485.84 370.24L484.09 370L482.34 369.78L480.59 369.59L478.84 369.43L477.09 369.29L475.34 369.19L473.59 369.15L471.84 369.15L470.09 369.19L468.34 369.27L466.59 369.39L464.83 369.55L463.08 369.75L461.33 369.99L459.58 370.28L457.83 370.61L456.08 370.99L454.33 371.42L452.58 371.91L450.83 372.44L449.08 373.03L447.33 373.68L445.58 374.38L443.83 375.14L442.08 375.96L440.33 376.84L438.57 377.79L436.82 378.79L435.07 379.87L433.32 381.01L431.57 382.2L429.82 383.47L428.07 384.8L426.32 386.21L424.57 387.68L422.82 389.24L421.07 390.87L419.32 392.57L417.57 394.35L415.82 396.23L414.06 398.2L412.31 400.25L410.56 402.38L408.81 404.6L407.06 406.9L405.31 409.28L403.56 411.74L401.81 414.26L400.06 416.86L398.31 419.53L396.56 422.25L394.81 425.04L393.06 427.89L391.31 430.78L389.55 433.73L387.8 436.73L386.05 439.77L384.3 442.85L382.55 445.96L380.8 449.11L379.05 452.3L377.3 455.5Z" fill="#dce6f3" stroke="none"/>
<line x1="377.3" y1="454.2" x2="519.4" y2="376.59" stroke="#747474" stroke-width="0.85" stroke-linecap="round" stroke-dasharray="0.25 1.75"/>
<g fill="rgba(25,55,150,0.3)" stroke="rgba(25,55,150,0.36)" stroke-width="0.5"><circle cx="411.2" cy="373.2" r="1.15"/><circle cx="405.1" cy="384" r="1.15"/><circle cx="402.8" cy="386.5" r="1.15"/><circle cx="400.1" cy="400.1" r="1.15"/><circle cx="411.2" cy="418.7" r="1.15"/><circle cx="397.4" cy="420.5" r="1.15"/><circle cx="389" cy="424.1" r="1.15"/><circle cx="393.3" cy="428.2" r="1.15"/><circle cx="384" cy="438.5" r="1.15"/><circle cx="387.9" cy="441.3" r="1.15"/><circle cx="386.1" cy="445.6" r="1.15"/><circle cx="390.8" cy="447.4" r="1.15"/><circle cx="390.2" cy="448.9" r="1.15"/><circle cx="383.6" cy="449.7" r="1.15"/><circle cx="382.2" cy="450.6" r="1.15"/><circle cx="432.4" cy="360.5" r="1.15"/><circle cx="450.7" cy="359" r="1.15"/><circle cx="474.7" cy="353.9" r="1.15"/><circle cx="499.6" cy="360.5" r="1.15"/><circle cx="515.6" cy="365.9" r="1.15"/><circle cx="448.5" cy="379.2" r="1.15"/><circle cx="472.6" cy="381.4" r="1.15"/><circle cx="426.1" cy="390.1" r="1.15"/><circle cx="434.2" cy="392.6" r="1.15"/><circle cx="430.2" cy="397.4" r="1.15"/><circle cx="444.8" cy="396" r="1.15"/><circle cx="499.6" cy="395.1" r="1.15"/><circle cx="377.02" cy="454.8" r="1.15"/><circle cx="378.67" cy="451.43" r="1.15"/><circle cx="377.34" cy="453.63" r="1.15"/><circle cx="378.07" cy="452.05" r="1.15"/><circle cx="377.96" cy="453.36" r="1.15"/><circle cx="377.69" cy="453.12" r="1.15"/><circle cx="377.88" cy="452.74" r="1.15"/><circle cx="379.15" cy="453.77" r="1.15"/><circle cx="381.71" cy="451.22" r="1.15"/><circle cx="377.19" cy="452.08" r="1.15"/><circle cx="379.17" cy="453.17" r="1.15"/><circle cx="382.55" cy="451.7" r="1.15"/><circle cx="378.29" cy="452.64" r="1.15"/><circle cx="377.72" cy="454.27" r="1.15"/><circle cx="381.17" cy="449.89" r="1.15"/><circle cx="377.92" cy="454.56" r="1.15"/><circle cx="379.05" cy="452.4" r="1.15"/><circle cx="381.35" cy="451.58" r="1.15"/><circle cx="378.91" cy="452.84" r="1.15"/><circle cx="382.28" cy="451.58" r="1.15"/><circle cx="379.89" cy="451.52" r="1.15"/><circle cx="380.55" cy="454.21" r="1.15"/><circle cx="377.84" cy="453.35" r="1.15"/><circle cx="377.98" cy="452.74" r="1.15"/><circle cx="382.43" cy="451.49" r="1.15"/><circle cx="382.34" cy="452.72" r="1.15"/><circle cx="379.08" cy="453.49" r="1.15"/><circle cx="378.91" cy="453.37" r="1.15"/><circle cx="379.23" cy="453.72" r="1.15"/><circle cx="381.04" cy="452.21" r="1.15"/><circle cx="376.37" cy="453.61" r="1.15"/><circle cx="379.5" cy="453.67" r="1.15"/></g>
<path d="M377.3 454.2L379.05 451L380.8 447.81L382.55 444.66L384.3 441.55L386.05 438.47L387.8 435.43L389.55 432.43L391.31 429.48L393.06 426.59L394.81 423.74L396.56 420.95L398.31 418.23L400.06 415.56L401.81 412.96L403.56 410.44L405.31 407.98L407.06 405.6L408.81 403.3L410.56 401.08L412.31 398.95L414.06 396.9L415.82 394.93L417.57 393.05L419.32 391.24L421.07 389.51L422.82 387.86L424.57 386.28L426.32 384.78L428.07 383.35L429.82 381.99L431.57 380.7L433.32 379.48L435.07 378.33L436.82 377.25L438.57 376.23L440.33 375.27L442.08 374.38L443.83 373.54L445.58 372.77L447.33 372.06L449.08 371.4L450.83 370.79L452.58 370.25L454.33 369.75L456.08 369.31L457.83 368.91L459.58 368.56L461.33 368.26L463.08 368.01L464.83 367.8L466.59 367.63L468.34 367.5L470.09 367.4L471.84 367.35L473.59 367.33L475.34 367.35L477.09 367.39L478.84 367.47L480.59 367.58L482.34 367.72L484.09 367.88L485.84 368.06L487.59 368.27L489.34 368.51L491.1 368.76L492.85 369.03L494.6 369.31L496.35 369.61L498.1 369.93L499.85 370.26L501.6 370.59L503.35 370.94L505.1 371.3L506.85 371.66L508.6 372.02L510.35 372.39L512.1 372.76L513.85 373.12L515.61 373.49" fill="none" stroke="#56709f" stroke-width="0.8"/>
</g>
<g font-size="12" fill="#111" stroke="#111" stroke-width="0.22" text-anchor="middle"><text x="472.4" y="435.8">PfGLURP-R0</text><text x="472.6" y="450.4">DBS</text></g>
<clipPath id="c15"><rect x="540.5" y="351.4" width="143.6" height="101.9"/></clipPath>
<rect x="540.5" y="351.4" width="143.6" height="101.9" fill="#fff" stroke="#d9dbde" stroke-width="1"/>
<path d="M538.5 450.5h2M538.5 423.6h2M538.5 396.7h2M538.5 369.8h2M542.3 453.3v2M581.83 453.3v2M621.37 453.3v2M660.9 453.3v2" stroke="#c8c8c8" stroke-width="0.6" fill="none"/>
<g font-size="4.5" fill="#7a7a7a"><text x="537.3" y="453.1" text-anchor="end">0</text><text x="537.3" y="426.2" text-anchor="end">20000</text><text x="537.3" y="399.3" text-anchor="end">40000</text><text x="537.3" y="372.4" text-anchor="end">60000</text><text x="542.3" y="461.4" text-anchor="middle">0</text><text x="581.83" y="461.4" text-anchor="middle">5000</text><text x="621.37" y="461.4" text-anchor="middle">10000</text><text x="660.9" y="461.4" text-anchor="middle">15000</text></g>
<g clip-path="url(#c15)">
<path d="M542.3 449.24L544.06 446.52L545.83 443.85L547.59 441.24L549.35 438.69L551.12 436.18L552.88 433.74L554.64 431.34L556.41 429L558.17 426.71L559.93 424.48L561.7 422.29L563.46 420.16L565.23 418.08L566.99 416.05L568.75 414.08L570.52 412.15L572.28 410.28L574.04 408.45L575.81 406.68L577.57 404.96L579.33 403.28L581.1 401.66L582.86 400.08L584.62 398.55L586.39 397.07L588.15 395.64L589.91 394.26L591.68 392.92L593.44 391.63L595.2 390.39L596.97 389.2L598.73 388.05L600.5 386.94L602.26 385.89L604.02 384.87L605.79 383.91L607.55 382.98L609.31 382.1L611.08 381.27L612.84 380.48L614.6 379.73L616.37 379.02L618.13 378.35L619.89 377.72L621.66 377.13L623.42 376.57L625.18 376.05L626.95 375.57L628.71 375.12L630.47 374.68L632.24 374.28L634 373.91L635.76 373.57L637.53 373.26L639.29 372.99L641.06 372.74L642.82 372.52L644.58 372.33L646.35 372.16L648.11 372.02L649.87 371.91L651.64 371.82L653.4 371.75L655.16 371.71L656.93 371.69L658.69 371.68L660.45 371.7L662.22 371.71L663.98 371.72L665.74 371.75L667.51 371.8L669.27 371.86L671.03 371.94L672.8 372.03L674.56 372.13L676.33 372.25L678.09 372.38L679.85 372.52L681.62 372.67L681.62 377.78L679.85 377.49L678.09 377.21L676.33 376.95L674.56 376.69L672.8 376.45L671.03 376.22L669.27 376.01L667.51 375.81L665.74 375.62L663.98 375.46L662.22 375.31L660.45 375.19L658.69 375.12L656.93 375.07L655.16 375.05L653.4 375.04L651.64 375.06L649.87 375.1L648.11 375.17L646.35 375.26L644.58 375.38L642.82 375.52L641.06 375.69L639.29 375.89L637.53 376.12L635.76 376.38L634 376.67L632.24 376.99L630.47 377.35L628.71 377.74L626.95 378.17L625.18 378.65L623.42 379.17L621.66 379.73L619.89 380.32L618.13 380.95L616.37 381.62L614.6 382.33L612.84 383.08L611.08 383.87L609.31 384.7L607.55 385.58L605.79 386.51L604.02 387.47L602.26 388.49L600.5 389.54L598.73 390.65L596.97 391.8L595.2 392.99L593.44 394.23L591.68 395.52L589.91 396.86L588.15 398.24L586.39 399.67L584.62 401.15L582.86 402.68L581.1 404.26L579.33 405.88L577.57 407.56L575.81 409.28L574.04 411.05L572.28 412.88L570.52 414.75L568.75 416.68L566.99 418.65L565.23 420.68L563.46 422.76L561.7 424.89L559.93 427.08L558.17 429.31L556.41 431.6L554.64 433.94L552.88 436.34L551.12 438.78L549.35 441.29L547.59 443.84L545.83 446.45L544.06 449.12L542.3 451.84Z" fill="#dce6f3" stroke="none"/>
<line x1="542.3" y1="450.5" x2="684.1" y2="426.38" stroke="#747474" stroke-width="0.85" stroke-linecap="round" stroke-dasharray="0.25 1.75"/>
<g fill="rgba(25,55,150,0.3)" stroke="rgba(25,55,150,0.36)" stroke-width="0.5"><circle cx="579.4" cy="400.8" r="1.15"/><circle cx="589.2" cy="406.5" r="1.15"/><circle cx="558.3" cy="410.9" r="1.15"/><circle cx="549.9" cy="414.9" r="1.15"/><circle cx="557.9" cy="417.1" r="1.15"/><circle cx="583" cy="416.2" r="1.15"/><circle cx="547.3" cy="421.5" r="1.15"/><circle cx="559.8" cy="428.4" r="1.15"/><circle cx="547.3" cy="429.4" r="1.15"/><circle cx="548.2" cy="433" r="1.15"/><circle cx="545" cy="434.7" r="1.15"/><circle cx="547.9" cy="435.6" r="1.15"/><circle cx="548.2" cy="437.6" r="1.15"/><circle cx="552.2" cy="441.9" r="1.15"/><circle cx="546.6" cy="441.3" r="1.15"/><circle cx="546" cy="442.9" r="1.15"/><circle cx="545.3" cy="444.5" r="1.15"/><circle cx="547.7" cy="445.6" r="1.15"/><circle cx="557.2" cy="450.2" r="1.15"/><circle cx="674.3" cy="353.6" r="1.15"/><circle cx="658.3" cy="367.1" r="1.15"/><circle cx="597.8" cy="374.8" r="1.15"/><circle cx="610.5" cy="388.7" r="1.15"/><circle cx="640.2" cy="385.3" r="1.15"/><circle cx="657.6" cy="387.2" r="1.15"/><circle cx="681.6" cy="388.7" r="1.15"/><circle cx="542.99" cy="448.83" r="1.15"/><circle cx="543.71" cy="444.84" r="1.15"/><circle cx="542.35" cy="448.19" r="1.15"/><circle cx="545.63" cy="442.98" r="1.15"/><circle cx="544.48" cy="445.57" r="1.15"/><circle cx="544.53" cy="447.37" r="1.15"/><circle cx="546.5" cy="444.1" r="1.15"/><circle cx="546.18" cy="443.79" r="1.15"/><circle cx="545.89" cy="446.57" r="1.15"/><circle cx="543.75" cy="448.21" r="1.15"/><circle cx="541.89" cy="451.2" r="1.15"/><circle cx="545.19" cy="446.61" r="1.15"/><circle cx="544.76" cy="442.3" r="1.15"/><circle cx="542.83" cy="448.71" r="1.15"/><circle cx="544.4" cy="449.04" r="1.15"/><circle cx="543.98" cy="447.14" r="1.15"/><circle cx="544.44" cy="451.14" r="1.15"/><circle cx="544.16" cy="448.75" r="1.15"/><circle cx="545.36" cy="442.13" r="1.15"/><circle cx="541.3" cy="449.93" r="1.15"/><circle cx="544.11" cy="443.05" r="1.15"/><circle cx="542" cy="450.13" r="1.15"/><circle cx="544.1" cy="446.63" r="1.15"/><circle cx="543.92" cy="448.24" r="1.15"/><circle cx="544.97" cy="448.1" r="1.15"/><circle cx="545.24" cy="448.44" r="1.15"/><circle cx="545.43" cy="444.69" r="1.15"/><circle cx="543.07" cy="445.65" r="1.15"/><circle cx="546.31" cy="443.46" r="1.15"/><circle cx="542.43" cy="448.07" r="1.15"/><circle cx="544.57" cy="443.63" r="1.15"/><circle cx="543.79" cy="447.03" r="1.15"/><circle cx="548.82" cy="444.94" r="1.15"/><circle cx="545.11" cy="448.37" r="1.15"/><circle cx="541.3" cy="447.47" r="1.15"/><circle cx="544.18" cy="448.91" r="1.15"/><circle cx="545.75" cy="446.09" r="1.15"/><circle cx="542.34" cy="449.39" r="1.15"/><circle cx="543.7" cy="445.53" r="1.15"/><circle cx="543.47" cy="447.86" r="1.15"/><circle cx="544.53" cy="443.42" r="1.15"/><circle cx="542.97" cy="449.06" r="1.15"/></g>
<path d="M542.3 450.54L544.06 447.82L545.83 445.15L547.59 442.54L549.35 439.99L551.12 437.48L552.88 435.04L554.64 432.64L556.41 430.3L558.17 428.01L559.93 425.78L561.7 423.59L563.46 421.46L565.23 419.38L566.99 417.35L568.75 415.38L570.52 413.45L572.28 411.58L574.04 409.75L575.81 407.98L577.57 406.26L579.33 404.58L581.1 402.96L582.86 401.38L584.62 399.85L586.39 398.37L588.15 396.94L589.91 395.56L591.68 394.22L593.44 392.93L595.2 391.69L596.97 390.5L598.73 389.35L600.5 388.24L602.26 387.19L604.02 386.17L605.79 385.21L607.55 384.28L609.31 383.4L611.08 382.57L612.84 381.78L614.6 381.03L616.37 380.32L618.13 379.65L619.89 379.02L621.66 378.43L623.42 377.87L625.18 377.35L626.95 376.87L628.71 376.43L630.47 376.02L632.24 375.64L634 375.29L635.76 374.98L637.53 374.69L639.29 374.44L641.06 374.22L642.82 374.02L644.58 373.85L646.35 373.71L648.11 373.6L649.87 373.51L651.64 373.44L653.4 373.4L655.16 373.38L656.93 373.38L658.69 373.4L660.45 373.45L662.22 373.51L663.98 373.59L665.74 373.69L667.51 373.8L669.27 373.93L671.03 374.08L672.8 374.24L674.56 374.41L676.33 374.6L678.09 374.8L679.85 375.01L681.62 375.22" fill="none" stroke="#56709f" stroke-width="0.8"/>
</g>
<g font-size="12" fill="#111" stroke="#111" stroke-width="0.22" text-anchor="middle"><text x="654.6" y="435.7">PfHRP2</text><text x="654.9" y="450.3">DBS</text></g>
<text x="363.9" y="487.2" font-size="15.9" text-anchor="middle" fill="#111" stroke="#111" stroke-width="0.25">Standard MFI-bg</text>
<text transform="translate(12.5 228.7) rotate(-90)" font-size="15.9" text-anchor="middle" fill="#111" stroke="#111" stroke-width="0.25">OneStep MFI-bg</text>
</svg>
</body></html>
